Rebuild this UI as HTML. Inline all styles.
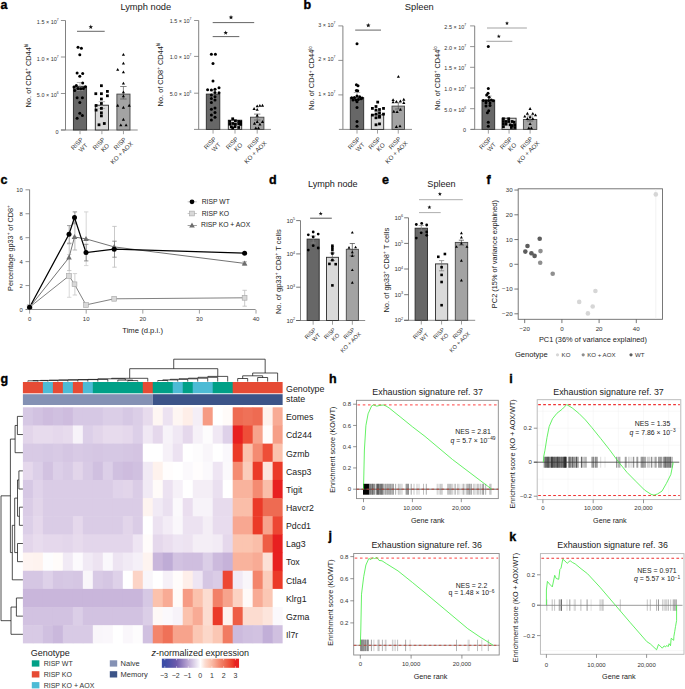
<!DOCTYPE html>
<html><head><meta charset="utf-8"><style>
html,body{margin:0;padding:0;background:#fff;}
body{width:685px;height:689px;overflow:hidden;}
svg{display:block;font-family:"Liberation Sans", sans-serif;}
</style></head><body>
<svg width="685" height="689" viewBox="0 0 685 689" fill="#1a1a1a">
<text x="0.4" y="9.3" font-size="12.5" font-weight="bold" fill="#000" stroke="#000" stroke-width="0.35">a</text>
<text x="145.8" y="10.1" font-size="9.3" text-anchor="middle">Lymph node</text>
<line x1="65.5" y1="20.5" x2="65.5" y2="130" stroke="#6a6a6a" stroke-width="0.85"/>
<line x1="61" y1="130" x2="137.7" y2="130" stroke="#7a7a7a" stroke-width="0.85"/>
<line x1="60.9" y1="20.5" x2="65.5" y2="20.5" stroke="#777" stroke-width="0.8"/>
<text x="58.6" y="24.33" font-size="6.2" transform="matrix(0.88 0 0 1 7.03 0)" text-anchor="end" fill="#333">1.5 × 10<tspan font-size="3.84" dy="-2.91">7</tspan></text>
<line x1="60.9" y1="57" x2="65.5" y2="57" stroke="#777" stroke-width="0.8"/>
<text x="58.6" y="60.83" font-size="6.2" transform="matrix(0.88 0 0 1 7.03 0)" text-anchor="end" fill="#333">1.0 × 10<tspan font-size="3.84" dy="-2.91">7</tspan></text>
<line x1="60.9" y1="93.5" x2="65.5" y2="93.5" stroke="#777" stroke-width="0.8"/>
<text x="58.6" y="97.33" font-size="6.2" transform="matrix(0.88 0 0 1 7.03 0)" text-anchor="end" fill="#333">5.0 × 10<tspan font-size="3.84" dy="-2.91">6</tspan></text>
<line x1="60.9" y1="130" x2="65.5" y2="130" stroke="#777" stroke-width="0.8"/>
<text x="58.6" y="133.83" font-size="6.2" transform="matrix(0.88 0 0 1 7.03 0)" text-anchor="end" fill="#333">0</text>
<rect x="73.4" y="86.3" width="13.2" height="43.7" fill="#676767" stroke="#2a2a2a" stroke-width="0.9"/>
<line x1="80" y1="130.4" x2="80" y2="134.2" stroke="#888" stroke-width="0.8"/>
<text x="77" y="145.87" font-size="6.2" text-anchor="middle" fill="#333" transform="rotate(-45 77 143.7)">RISP</text>
<text x="83.2" y="149.77" font-size="6.2" text-anchor="middle" fill="#333" transform="rotate(-45 83.2 147.6)">WT</text>
<rect x="95.3" y="105.2" width="13.2" height="24.8" fill="#dadada" stroke="#2a2a2a" stroke-width="0.9"/>
<line x1="101.9" y1="130.4" x2="101.9" y2="134.2" stroke="#888" stroke-width="0.8"/>
<text x="98.9" y="145.87" font-size="6.2" text-anchor="middle" fill="#333" transform="rotate(-45 98.9 143.7)">RISP</text>
<text x="105.1" y="149.77" font-size="6.2" text-anchor="middle" fill="#333" transform="rotate(-45 105.1 147.6)">KO</text>
<rect x="116.9" y="94.1" width="13.1" height="35.9" fill="#a3a3a3" stroke="#444" stroke-width="0.9"/>
<line x1="123.45" y1="130.4" x2="123.45" y2="134.2" stroke="#888" stroke-width="0.8"/>
<text x="119.95" y="145.77" font-size="6.2" text-anchor="middle" fill="#333" transform="rotate(-45 119.95 143.6)">RISP</text>
<text x="121.65" y="154.97" font-size="6.2" text-anchor="middle" fill="#333" transform="rotate(-45 121.65 152.8)">KO + AOX</text>
<text x="30.6" y="75.5" font-size="7.4" text-anchor="middle" fill="#1a1a1a" transform="rotate(-90 30.6 75.5)">No. of CD4<tspan font-size="4.59" dy="-2.81">+</tspan><tspan dy="2.81"> </tspan>CD44<tspan font-size="4.59" dy="-2.81">hi</tspan></text>
<line x1="80" y1="82.5" x2="80" y2="90.5" stroke="#999" stroke-width="0.7"/>
<line x1="76.8" y1="82.5" x2="83.2" y2="82.5" stroke="#999" stroke-width="0.7"/>
<line x1="76.8" y1="90.5" x2="83.2" y2="90.5" stroke="#999" stroke-width="0.7"/>
<line x1="101.9" y1="101.7" x2="101.9" y2="108.5" stroke="#999" stroke-width="0.7"/>
<line x1="98.7" y1="101.7" x2="105.1" y2="101.7" stroke="#999" stroke-width="0.7"/>
<line x1="98.7" y1="108.5" x2="105.1" y2="108.5" stroke="#999" stroke-width="0.7"/>
<line x1="123.4" y1="86.5" x2="123.4" y2="99" stroke="#555" stroke-width="0.7"/>
<line x1="120.2" y1="86.5" x2="126.6" y2="86.5" stroke="#555" stroke-width="0.7"/>
<line x1="120.2" y1="99" x2="126.6" y2="99" stroke="#555" stroke-width="0.7"/>
<circle cx="78" cy="47.3" r="1.5" fill="#000"/>
<circle cx="81.4" cy="48.3" r="1.5" fill="#000"/>
<circle cx="79.8" cy="54.7" r="1.5" fill="#000"/>
<circle cx="77.1" cy="73.1" r="1.5" fill="#000"/>
<circle cx="82.7" cy="73.4" r="1.5" fill="#000"/>
<circle cx="79.8" cy="76.3" r="1.5" fill="#000"/>
<circle cx="82.7" cy="83" r="1.5" fill="#000"/>
<circle cx="76.3" cy="85.4" r="1.5" fill="#000"/>
<circle cx="74" cy="87" r="1.5" fill="#000"/>
<circle cx="85.4" cy="86.8" r="1.5" fill="#000"/>
<circle cx="78" cy="88.4" r="1.5" fill="#000"/>
<circle cx="80.7" cy="88.8" r="1.5" fill="#000"/>
<circle cx="83.4" cy="88.4" r="1.5" fill="#000"/>
<circle cx="74.7" cy="90.5" r="1.5" fill="#000"/>
<circle cx="77.1" cy="97.7" r="1.5" fill="#000"/>
<circle cx="82.4" cy="97.7" r="1.5" fill="#000"/>
<circle cx="79.8" cy="102.5" r="1.5" fill="#000"/>
<circle cx="79.8" cy="113.2" r="1.5" fill="#000"/>
<circle cx="82.4" cy="115.5" r="1.5" fill="#000"/>
<circle cx="77.1" cy="118.2" r="1.5" fill="#000"/>
<rect x="100.01" y="84.31" width="2.78" height="2.78" fill="#000"/>
<rect x="94.41" y="92.31" width="2.78" height="2.78" fill="#000"/>
<rect x="100.01" y="92.31" width="2.78" height="2.78" fill="#000"/>
<rect x="106.01" y="90.01" width="2.78" height="2.78" fill="#000"/>
<rect x="106.01" y="94.41" width="2.78" height="2.78" fill="#000"/>
<rect x="100.01" y="97.61" width="2.78" height="2.78" fill="#000"/>
<rect x="94.71" y="104.11" width="2.78" height="2.78" fill="#000"/>
<rect x="100.01" y="102.11" width="2.78" height="2.78" fill="#000"/>
<rect x="94.71" y="108.71" width="2.78" height="2.78" fill="#000"/>
<rect x="100.01" y="107.01" width="2.78" height="2.78" fill="#000"/>
<rect x="100.01" y="111.41" width="2.78" height="2.78" fill="#000"/>
<rect x="100.01" y="114.51" width="2.78" height="2.78" fill="#000"/>
<rect x="102.91" y="122.11" width="2.78" height="2.78" fill="#000"/>
<rect x="97.61" y="123.41" width="2.78" height="2.78" fill="#000"/>
<path d="M123.4 53L124.98 55.83L121.83 55.83Z" fill="#000"/>
<path d="M123.4 61.7L124.98 64.53L121.83 64.53Z" fill="#000"/>
<path d="M117.7 68L119.28 70.83L116.12 70.83Z" fill="#000"/>
<path d="M123.4 70.4L124.98 73.23L121.83 73.23Z" fill="#000"/>
<path d="M123.4 81.7L124.98 84.53L121.83 84.53Z" fill="#000"/>
<path d="M123.4 90.4L124.98 93.23L121.83 93.23Z" fill="#000"/>
<path d="M123.4 94.4L124.98 97.23L121.83 97.23Z" fill="#000"/>
<path d="M117.7 103.8L119.28 106.63L116.12 106.63Z" fill="#000"/>
<path d="M129.2 103.8L130.77 106.63L127.62 106.63Z" fill="#000"/>
<path d="M123.4 105.8L124.98 108.63L121.83 108.63Z" fill="#000"/>
<path d="M123.4 117.8L124.98 120.63L121.83 120.63Z" fill="#000"/>
<path d="M120.8 123.5L122.38 126.33L119.22 126.33Z" fill="#000"/>
<path d="M126.1 123.5L127.67 126.33L124.52 126.33Z" fill="#000"/>
<line x1="77" y1="31.3" x2="104.7" y2="31.3" stroke="#555" stroke-width="0.9"/>
<path d="M90.8 24.6 L91.39 26.18 L93.08 26.26 L91.76 27.31 L92.21 28.94 L90.8 28.01 L89.39 28.94 L89.84 27.31 L88.52 26.26 L90.21 26.18Z" fill="#111"/>
<line x1="198.7" y1="20.5" x2="198.7" y2="129.4" stroke="#6a6a6a" stroke-width="0.85"/>
<line x1="194" y1="129.4" x2="271" y2="129.4" stroke="#7a7a7a" stroke-width="0.85"/>
<line x1="194.1" y1="20.5" x2="198.7" y2="20.5" stroke="#777" stroke-width="0.8"/>
<text x="191.5" y="23.23" font-size="6.2" transform="matrix(0.88 0 0 1 22.98 0)" text-anchor="end" fill="#333">1.5 × 10<tspan font-size="3.84" dy="-2.91">7</tspan></text>
<line x1="194.1" y1="56.4" x2="198.7" y2="56.4" stroke="#777" stroke-width="0.8"/>
<text x="191.5" y="59.13" font-size="6.2" transform="matrix(0.88 0 0 1 22.98 0)" text-anchor="end" fill="#333">1.0 × 10<tspan font-size="3.84" dy="-2.91">7</tspan></text>
<line x1="194.1" y1="93.2" x2="198.7" y2="93.2" stroke="#777" stroke-width="0.8"/>
<text x="191.5" y="95.93" font-size="6.2" transform="matrix(0.88 0 0 1 22.98 0)" text-anchor="end" fill="#333">5.0 × 10<tspan font-size="3.84" dy="-2.91">6</tspan></text>
<rect x="206.3" y="94.1" width="13.5" height="35.3" fill="#676767" stroke="#2a2a2a" stroke-width="0.9"/>
<line x1="213.05" y1="129.8" x2="213.05" y2="133.6" stroke="#888" stroke-width="0.8"/>
<text x="210.05" y="145.27" font-size="6.2" text-anchor="middle" fill="#333" transform="rotate(-45 210.05 143.1)">RISP</text>
<text x="216.25" y="149.17" font-size="6.2" text-anchor="middle" fill="#333" transform="rotate(-45 216.25 147)">WT</text>
<rect x="228.3" y="120.2" width="13.4" height="9.2" fill="#dadada" stroke="#2a2a2a" stroke-width="0.9"/>
<line x1="235" y1="129.8" x2="235" y2="133.6" stroke="#888" stroke-width="0.8"/>
<text x="232" y="145.27" font-size="6.2" text-anchor="middle" fill="#333" transform="rotate(-45 232 143.1)">RISP</text>
<text x="238.2" y="149.17" font-size="6.2" text-anchor="middle" fill="#333" transform="rotate(-45 238.2 147)">KO</text>
<rect x="250.5" y="117.2" width="13.4" height="12.2" fill="#a3a3a3" stroke="#444" stroke-width="0.9"/>
<line x1="257.2" y1="129.8" x2="257.2" y2="133.6" stroke="#888" stroke-width="0.8"/>
<text x="253.7" y="145.17" font-size="6.2" text-anchor="middle" fill="#333" transform="rotate(-45 253.7 143)">RISP</text>
<text x="255.4" y="154.37" font-size="6.2" text-anchor="middle" fill="#333" transform="rotate(-45 255.4 152.2)">KO + AOX</text>
<text x="163" y="74.5" font-size="7.4" text-anchor="middle" fill="#1a1a1a" transform="rotate(-90 163 74.5)">No. of CD8<tspan font-size="4.59" dy="-2.81">+</tspan><tspan dy="2.81"> </tspan>CD44<tspan font-size="4.59" dy="-2.81">hi</tspan></text>
<line x1="213" y1="90" x2="213" y2="98" stroke="#999" stroke-width="0.7"/>
<line x1="209.8" y1="90" x2="216.2" y2="90" stroke="#999" stroke-width="0.7"/>
<line x1="209.8" y1="98" x2="216.2" y2="98" stroke="#999" stroke-width="0.7"/>
<line x1="257.2" y1="114.1" x2="257.2" y2="120" stroke="#555" stroke-width="0.7"/>
<line x1="254" y1="114.1" x2="260.4" y2="114.1" stroke="#555" stroke-width="0.7"/>
<line x1="254" y1="120" x2="260.4" y2="120" stroke="#555" stroke-width="0.7"/>
<circle cx="211.4" cy="54.3" r="1.5" fill="#000"/>
<circle cx="215.4" cy="54.3" r="1.5" fill="#000"/>
<circle cx="213" cy="63.4" r="1.5" fill="#000"/>
<circle cx="213" cy="81.1" r="1.5" fill="#000"/>
<circle cx="207.6" cy="89.8" r="1.5" fill="#000"/>
<circle cx="211.4" cy="90.1" r="1.5" fill="#000"/>
<circle cx="215" cy="89.2" r="1.5" fill="#000"/>
<circle cx="219" cy="87.8" r="1.5" fill="#000"/>
<circle cx="215" cy="92.4" r="1.5" fill="#000"/>
<circle cx="219" cy="92.8" r="1.5" fill="#000"/>
<circle cx="211.4" cy="95" r="1.5" fill="#000"/>
<circle cx="215" cy="96.8" r="1.5" fill="#000"/>
<circle cx="211.4" cy="98.5" r="1.5" fill="#000"/>
<circle cx="215" cy="100.1" r="1.5" fill="#000"/>
<circle cx="211.4" cy="102.5" r="1.5" fill="#000"/>
<circle cx="211.4" cy="109.2" r="1.5" fill="#000"/>
<circle cx="215" cy="107.9" r="1.5" fill="#000"/>
<circle cx="215" cy="112.4" r="1.5" fill="#000"/>
<circle cx="211.4" cy="115.1" r="1.5" fill="#000"/>
<circle cx="215" cy="117.2" r="1.5" fill="#000"/>
<circle cx="211.4" cy="119.9" r="1.5" fill="#000"/>
<rect x="228.31" y="120.11" width="2.78" height="2.78" fill="#000"/>
<rect x="231.31" y="117.41" width="2.78" height="2.78" fill="#000"/>
<rect x="234.01" y="119.41" width="2.78" height="2.78" fill="#000"/>
<rect x="237.31" y="120.11" width="2.78" height="2.78" fill="#000"/>
<rect x="239.31" y="120.41" width="2.78" height="2.78" fill="#000"/>
<rect x="228.31" y="122.81" width="2.78" height="2.78" fill="#000"/>
<rect x="231.31" y="122.11" width="2.78" height="2.78" fill="#000"/>
<rect x="234.01" y="122.81" width="2.78" height="2.78" fill="#000"/>
<rect x="237.31" y="122.51" width="2.78" height="2.78" fill="#000"/>
<rect x="239.31" y="123.01" width="2.78" height="2.78" fill="#000"/>
<rect x="230.01" y="125.41" width="2.78" height="2.78" fill="#000"/>
<rect x="233.61" y="125.21" width="2.78" height="2.78" fill="#000"/>
<rect x="237.31" y="126.11" width="2.78" height="2.78" fill="#000"/>
<rect x="231.31" y="126.81" width="2.78" height="2.78" fill="#000"/>
<path d="M254.1 107.1L255.67 109.93L252.53 109.93Z" fill="#000"/>
<path d="M257.2 104.4L258.77 107.23L255.62 107.23Z" fill="#000"/>
<path d="M259.9 104L261.47 106.83L258.32 106.83Z" fill="#000"/>
<path d="M262.5 103.8L264.07 106.63L260.93 106.63Z" fill="#000"/>
<path d="M257.2 108L258.77 110.83L255.62 110.83Z" fill="#000"/>
<path d="M257.2 113.8L258.77 116.63L255.62 116.63Z" fill="#000"/>
<path d="M254.5 121.8L256.07 124.63L252.93 124.63Z" fill="#000"/>
<path d="M257.2 120.1L258.77 122.93L255.62 122.93Z" fill="#000"/>
<path d="M259.9 122.7L261.47 125.53L258.32 125.53Z" fill="#000"/>
<path d="M262.5 120.1L264.07 122.93L260.93 122.93Z" fill="#000"/>
<path d="M255.8 126.5L257.38 129.33L254.23 129.33Z" fill="#000"/>
<path d="M258.5 126.5L260.07 129.33L256.93 129.33Z" fill="#000"/>
<line x1="212.7" y1="22.6" x2="254.2" y2="22.6" stroke="#555" stroke-width="0.9"/>
<path d="M231 15 L231.59 16.58 L233.28 16.66 L231.96 17.71 L232.41 19.34 L231 18.41 L229.59 19.34 L230.04 17.71 L228.72 16.66 L230.41 16.58Z" fill="#111"/>
<line x1="212.7" y1="36.6" x2="239.3" y2="36.6" stroke="#555" stroke-width="0.9"/>
<path d="M225.7 30.4 L226.29 31.98 L227.98 32.06 L226.66 33.11 L227.11 34.74 L225.7 33.81 L224.29 34.74 L224.74 33.11 L223.42 32.06 L225.11 31.98Z" fill="#111"/>
<text x="303.5" y="9.4" font-size="12.5" font-weight="bold" fill="#000" stroke="#000" stroke-width="0.35">b</text>
<text x="419.3" y="9.8" font-size="9.3" text-anchor="middle">Spleen</text>
<line x1="342.9" y1="25.9" x2="342.9" y2="129.4" stroke="#6a6a6a" stroke-width="0.85"/>
<line x1="338.9" y1="129.4" x2="412" y2="129.4" stroke="#7a7a7a" stroke-width="0.85"/>
<line x1="338.3" y1="25.9" x2="342.9" y2="25.9" stroke="#777" stroke-width="0.8"/>
<text x="335.4" y="26.63" font-size="6.2" transform="matrix(0.88 0 0 1 40.25 0)" text-anchor="end" fill="#333">3 × 10<tspan font-size="3.84" dy="-2.91">7</tspan></text>
<line x1="338.3" y1="60.4" x2="342.9" y2="60.4" stroke="#777" stroke-width="0.8"/>
<text x="335.4" y="61.13" font-size="6.2" transform="matrix(0.88 0 0 1 40.25 0)" text-anchor="end" fill="#333">2 × 10<tspan font-size="3.84" dy="-2.91">7</tspan></text>
<line x1="338.3" y1="94.9" x2="342.9" y2="94.9" stroke="#777" stroke-width="0.8"/>
<text x="335.4" y="95.63" font-size="6.2" transform="matrix(0.88 0 0 1 40.25 0)" text-anchor="end" fill="#333">1 × 10<tspan font-size="3.84" dy="-2.91">7</tspan></text>
<rect x="350.3" y="97.7" width="13.4" height="31.7" fill="#676767" stroke="#2a2a2a" stroke-width="0.9"/>
<line x1="357" y1="129.8" x2="357" y2="133.6" stroke="#888" stroke-width="0.8"/>
<text x="354" y="145.27" font-size="6.2" text-anchor="middle" fill="#333" transform="rotate(-45 354 143.1)">RISP</text>
<text x="360.2" y="149.17" font-size="6.2" text-anchor="middle" fill="#333" transform="rotate(-45 360.2 147)">WT</text>
<rect x="371.3" y="114.8" width="12.4" height="14.6" fill="#dadada" stroke="#2a2a2a" stroke-width="0.9"/>
<line x1="377.5" y1="129.8" x2="377.5" y2="133.6" stroke="#888" stroke-width="0.8"/>
<text x="374.5" y="145.27" font-size="6.2" text-anchor="middle" fill="#333" transform="rotate(-45 374.5 143.1)">RISP</text>
<text x="380.7" y="149.17" font-size="6.2" text-anchor="middle" fill="#333" transform="rotate(-45 380.7 147)">KO</text>
<rect x="392" y="106.1" width="12.5" height="23.3" fill="#a3a3a3" stroke="#444" stroke-width="0.9"/>
<line x1="398.25" y1="129.8" x2="398.25" y2="133.6" stroke="#888" stroke-width="0.8"/>
<text x="394.75" y="145.17" font-size="6.2" text-anchor="middle" fill="#333" transform="rotate(-45 394.75 143)">RISP</text>
<text x="396.45" y="154.37" font-size="6.2" text-anchor="middle" fill="#333" transform="rotate(-45 396.45 152.2)">KO + AOX</text>
<text x="314.4" y="78" font-size="7.4" text-anchor="middle" fill="#1a1a1a" transform="rotate(-90 314.4 78)">No. of CD4<tspan font-size="4.59" dy="-2.81">+</tspan><tspan dy="2.81"> </tspan>CD44<tspan font-size="4.59" dy="-2.81">lo</tspan></text>
<line x1="357" y1="92.5" x2="357" y2="101" stroke="#999" stroke-width="0.7"/>
<line x1="353.8" y1="92.5" x2="360.2" y2="92.5" stroke="#999" stroke-width="0.7"/>
<line x1="353.8" y1="101" x2="360.2" y2="101" stroke="#999" stroke-width="0.7"/>
<line x1="377.5" y1="111" x2="377.5" y2="118" stroke="#999" stroke-width="0.7"/>
<line x1="374.3" y1="111" x2="380.7" y2="111" stroke="#999" stroke-width="0.7"/>
<line x1="374.3" y1="118" x2="380.7" y2="118" stroke="#999" stroke-width="0.7"/>
<line x1="398.3" y1="102.8" x2="398.3" y2="109" stroke="#555" stroke-width="0.7"/>
<line x1="395.1" y1="102.8" x2="401.5" y2="102.8" stroke="#555" stroke-width="0.7"/>
<line x1="395.1" y1="109" x2="401.5" y2="109" stroke="#555" stroke-width="0.7"/>
<circle cx="357" cy="43.7" r="1.5" fill="#000"/>
<circle cx="356.4" cy="84.8" r="1.5" fill="#000"/>
<circle cx="358" cy="85.7" r="1.5" fill="#000"/>
<circle cx="356.4" cy="90.5" r="1.5" fill="#000"/>
<circle cx="357.7" cy="90.8" r="1.5" fill="#000"/>
<circle cx="351.7" cy="97.7" r="1.5" fill="#000"/>
<circle cx="354.4" cy="97.4" r="1.5" fill="#000"/>
<circle cx="357" cy="96.1" r="1.5" fill="#000"/>
<circle cx="359.7" cy="96.8" r="1.5" fill="#000"/>
<circle cx="362.1" cy="98.1" r="1.5" fill="#000"/>
<circle cx="353" cy="99.9" r="1.5" fill="#000"/>
<circle cx="355.7" cy="100.1" r="1.5" fill="#000"/>
<circle cx="358.4" cy="99.5" r="1.5" fill="#000"/>
<circle cx="361" cy="98.8" r="1.5" fill="#000"/>
<circle cx="357" cy="101.7" r="1.5" fill="#000"/>
<circle cx="357" cy="107.5" r="1.5" fill="#000"/>
<circle cx="357" cy="121.5" r="1.5" fill="#000"/>
<circle cx="357" cy="126.2" r="1.5" fill="#000"/>
<rect x="376.31" y="100.71" width="2.78" height="2.78" fill="#000"/>
<rect x="374.61" y="105.11" width="2.78" height="2.78" fill="#000"/>
<rect x="371.01" y="107.01" width="2.78" height="2.78" fill="#000"/>
<rect x="378.11" y="108.11" width="2.78" height="2.78" fill="#000"/>
<rect x="382.11" y="107.01" width="2.78" height="2.78" fill="#000"/>
<rect x="374.61" y="108.71" width="2.78" height="2.78" fill="#000"/>
<rect x="378.11" y="111.41" width="2.78" height="2.78" fill="#000"/>
<rect x="371.01" y="113.71" width="2.78" height="2.78" fill="#000"/>
<rect x="374.61" y="112.71" width="2.78" height="2.78" fill="#000"/>
<rect x="378.11" y="115.01" width="2.78" height="2.78" fill="#000"/>
<rect x="382.11" y="112.71" width="2.78" height="2.78" fill="#000"/>
<rect x="374.61" y="116.41" width="2.78" height="2.78" fill="#000"/>
<rect x="378.11" y="115.81" width="2.78" height="2.78" fill="#000"/>
<rect x="374.61" y="123.41" width="2.78" height="2.78" fill="#000"/>
<rect x="378.11" y="122.51" width="2.78" height="2.78" fill="#000"/>
<path d="M398.4 75L399.97 77.83L396.82 77.83Z" fill="#000"/>
<path d="M393.1 98.2L394.68 101.03L391.53 101.03Z" fill="#000"/>
<path d="M396.4 100L397.97 102.83L394.82 102.83Z" fill="#000"/>
<path d="M400.4 99.5L401.97 102.33L398.82 102.33Z" fill="#000"/>
<path d="M403.8 97.8L405.38 100.63L402.23 100.63Z" fill="#000"/>
<path d="M393.1 100.4L394.68 103.23L391.53 103.23Z" fill="#000"/>
<path d="M403.8 101.1L405.38 103.93L402.23 103.93Z" fill="#000"/>
<path d="M393.8 109.8L395.38 112.63L392.23 112.63Z" fill="#000"/>
<path d="M397.1 110.2L398.68 113.03L395.53 113.03Z" fill="#000"/>
<path d="M400.4 108L401.97 110.83L398.82 110.83Z" fill="#000"/>
<path d="M396.4 125.1L397.97 127.93L394.82 127.93Z" fill="#000"/>
<path d="M400 124.5L401.57 127.33L398.43 127.33Z" fill="#000"/>
<line x1="355.2" y1="30.1" x2="381" y2="30.1" stroke="#555" stroke-width="0.9"/>
<path d="M368.3 23 L368.89 24.58 L370.58 24.66 L369.26 25.71 L369.71 27.34 L368.3 26.41 L366.89 27.34 L367.34 25.71 L366.02 24.66 L367.71 24.58Z" fill="#111"/>
<line x1="474.7" y1="25.9" x2="474.7" y2="129.4" stroke="#6a6a6a" stroke-width="0.85"/>
<line x1="471" y1="129.4" x2="537" y2="129.4" stroke="#7a7a7a" stroke-width="0.85"/>
<line x1="470.1" y1="25.9" x2="474.7" y2="25.9" stroke="#777" stroke-width="0.8"/>
<text x="466.1" y="28.83" font-size="6.2" transform="matrix(0.88 0 0 1 55.93 0)" text-anchor="end" fill="#333">2.5 × 10<tspan font-size="3.84" dy="-2.91">7</tspan></text>
<line x1="470.1" y1="46.6" x2="474.7" y2="46.6" stroke="#777" stroke-width="0.8"/>
<text x="466.1" y="49.53" font-size="6.2" transform="matrix(0.88 0 0 1 55.93 0)" text-anchor="end" fill="#333">2.0 × 10<tspan font-size="3.84" dy="-2.91">7</tspan></text>
<line x1="470.1" y1="67.3" x2="474.7" y2="67.3" stroke="#777" stroke-width="0.8"/>
<text x="466.1" y="70.23" font-size="6.2" transform="matrix(0.88 0 0 1 55.93 0)" text-anchor="end" fill="#333">1.5 × 10<tspan font-size="3.84" dy="-2.91">7</tspan></text>
<line x1="470.1" y1="88" x2="474.7" y2="88" stroke="#777" stroke-width="0.8"/>
<text x="466.1" y="90.93" font-size="6.2" transform="matrix(0.88 0 0 1 55.93 0)" text-anchor="end" fill="#333">1.0 × 10<tspan font-size="3.84" dy="-2.91">7</tspan></text>
<line x1="470.1" y1="108.7" x2="474.7" y2="108.7" stroke="#777" stroke-width="0.8"/>
<text x="466.1" y="111.63" font-size="6.2" transform="matrix(0.88 0 0 1 55.93 0)" text-anchor="end" fill="#333">5.0 × 10<tspan font-size="3.84" dy="-2.91">6</tspan></text>
<line x1="470.1" y1="129.4" x2="474.7" y2="129.4" stroke="#777" stroke-width="0.8"/>
<text x="466.1" y="132.33" font-size="6.2" transform="matrix(0.88 0 0 1 55.93 0)" text-anchor="end" fill="#333">0</text>
<rect x="482" y="100.1" width="12.7" height="29.3" fill="#676767" stroke="#2a2a2a" stroke-width="0.9"/>
<line x1="488.35" y1="129.8" x2="488.35" y2="133.6" stroke="#888" stroke-width="0.8"/>
<text x="485.35" y="145.27" font-size="6.2" text-anchor="middle" fill="#333" transform="rotate(-45 485.35 143.1)">RISP</text>
<text x="491.55" y="149.17" font-size="6.2" text-anchor="middle" fill="#333" transform="rotate(-45 491.55 147)">WT</text>
<rect x="502" y="118.2" width="14.1" height="11.2" fill="#dadada" stroke="#2a2a2a" stroke-width="0.9"/>
<line x1="509.05" y1="129.8" x2="509.05" y2="133.6" stroke="#888" stroke-width="0.8"/>
<text x="506.05" y="145.27" font-size="6.2" text-anchor="middle" fill="#333" transform="rotate(-45 506.05 143.1)">RISP</text>
<text x="512.25" y="149.17" font-size="6.2" text-anchor="middle" fill="#333" transform="rotate(-45 512.25 147)">KO</text>
<rect x="523.4" y="119.5" width="13.4" height="9.9" fill="#a3a3a3" stroke="#444" stroke-width="0.9"/>
<line x1="530.1" y1="129.8" x2="530.1" y2="133.6" stroke="#888" stroke-width="0.8"/>
<text x="526.6" y="145.17" font-size="6.2" text-anchor="middle" fill="#333" transform="rotate(-45 526.6 143)">RISP</text>
<text x="528.3" y="154.37" font-size="6.2" text-anchor="middle" fill="#333" transform="rotate(-45 528.3 152.2)">KO + AOX</text>
<text x="439.8" y="78" font-size="7.4" text-anchor="middle" fill="#1a1a1a" transform="rotate(-90 439.8 78)">No. of CD8<tspan font-size="4.59" dy="-2.81">+</tspan><tspan dy="2.81"> </tspan>CD44<tspan font-size="4.59" dy="-2.81">lo</tspan></text>
<line x1="488.5" y1="96" x2="488.5" y2="103" stroke="#999" stroke-width="0.7"/>
<line x1="485.3" y1="96" x2="491.7" y2="96" stroke="#999" stroke-width="0.7"/>
<line x1="485.3" y1="103" x2="491.7" y2="103" stroke="#999" stroke-width="0.7"/>
<line x1="530" y1="116" x2="530" y2="121" stroke="#555" stroke-width="0.7"/>
<line x1="526.8" y1="116" x2="533.2" y2="116" stroke="#555" stroke-width="0.7"/>
<line x1="526.8" y1="121" x2="533.2" y2="121" stroke="#555" stroke-width="0.7"/>
<circle cx="488.3" cy="46.4" r="1.5" fill="#000"/>
<circle cx="488.3" cy="88.4" r="1.5" fill="#000"/>
<circle cx="488" cy="93.2" r="1.5" fill="#000"/>
<circle cx="486.7" cy="95" r="1.5" fill="#000"/>
<circle cx="489.1" cy="97.2" r="1.5" fill="#000"/>
<circle cx="483.3" cy="100.4" r="1.5" fill="#000"/>
<circle cx="486" cy="100.8" r="1.5" fill="#000"/>
<circle cx="488.7" cy="100.4" r="1.5" fill="#000"/>
<circle cx="491.4" cy="99.9" r="1.5" fill="#000"/>
<circle cx="493.4" cy="100.8" r="1.5" fill="#000"/>
<circle cx="486" cy="102.8" r="1.5" fill="#000"/>
<circle cx="490" cy="103.1" r="1.5" fill="#000"/>
<circle cx="486" cy="106.1" r="1.5" fill="#000"/>
<circle cx="490" cy="105.5" r="1.5" fill="#000"/>
<circle cx="488.7" cy="110.8" r="1.5" fill="#000"/>
<circle cx="487.4" cy="112.8" r="1.5" fill="#000"/>
<circle cx="488.3" cy="122.2" r="1.5" fill="#000"/>
<circle cx="488.3" cy="126.2" r="1.5" fill="#000"/>
<rect x="502.01" y="117.41" width="2.78" height="2.78" fill="#000"/>
<rect x="502.01" y="120.11" width="2.78" height="2.78" fill="#000"/>
<rect x="502.01" y="122.81" width="2.78" height="2.78" fill="#000"/>
<rect x="502.01" y="125.41" width="2.78" height="2.78" fill="#000"/>
<rect x="504.71" y="120.11" width="2.78" height="2.78" fill="#000"/>
<rect x="504.71" y="122.81" width="2.78" height="2.78" fill="#000"/>
<rect x="507.31" y="117.41" width="2.78" height="2.78" fill="#000"/>
<rect x="507.31" y="120.11" width="2.78" height="2.78" fill="#000"/>
<rect x="508.71" y="123.41" width="2.78" height="2.78" fill="#000"/>
<rect x="510.71" y="120.11" width="2.78" height="2.78" fill="#000"/>
<rect x="510.71" y="124.11" width="2.78" height="2.78" fill="#000"/>
<rect x="512.71" y="120.81" width="2.78" height="2.78" fill="#000"/>
<rect x="513.31" y="123.41" width="2.78" height="2.78" fill="#000"/>
<rect x="513.31" y="126.11" width="2.78" height="2.78" fill="#000"/>
<rect x="510.01" y="126.11" width="2.78" height="2.78" fill="#000"/>
<path d="M530.1 107.1L531.68 109.93L528.52 109.93Z" fill="#000"/>
<path d="M527.4 111.8L528.98 114.63L525.82 114.63Z" fill="#000"/>
<path d="M532.8 112L534.38 114.83L531.22 114.83Z" fill="#000"/>
<path d="M535.5 113.4L537.08 116.23L533.92 116.23Z" fill="#000"/>
<path d="M524.8 114.7L526.38 117.53L523.22 117.53Z" fill="#000"/>
<path d="M527.4 117.1L528.98 119.93L525.82 119.93Z" fill="#000"/>
<path d="M530.1 115.5L531.68 118.33L528.52 118.33Z" fill="#000"/>
<path d="M532.8 117.1L534.38 119.93L531.22 119.93Z" fill="#000"/>
<path d="M530.1 122.2L531.68 125.03L528.52 125.03Z" fill="#000"/>
<path d="M528.8 126.5L530.38 129.33L527.22 129.33Z" fill="#000"/>
<path d="M531.4 126.5L532.98 129.33L529.82 129.33Z" fill="#000"/>
<line x1="487" y1="28" x2="526.9" y2="28" stroke="#999" stroke-width="0.9"/>
<path d="M507 21.2 L507.52 22.59 L509 22.65 L507.84 23.57 L508.23 25 L507 24.18 L505.77 25 L506.16 23.57 L505 22.65 L506.48 22.59Z" fill="#111"/>
<line x1="486.3" y1="41.3" x2="512.3" y2="41.3" stroke="#999" stroke-width="0.9"/>
<path d="M498.8 34.3 L499.32 35.69 L500.8 35.75 L499.64 36.67 L500.03 38.1 L498.8 37.28 L497.57 38.1 L497.96 36.67 L496.8 35.75 L498.28 35.69Z" fill="#111"/>
<text x="0.6" y="183.6" font-size="12.5" font-weight="bold" fill="#000" stroke="#000" stroke-width="0.35">c</text>
<line x1="29.6" y1="189.6" x2="29.6" y2="309.5" stroke="#6a6a6a" stroke-width="0.85"/>
<line x1="25.8" y1="309.5" x2="255.6" y2="309.5" stroke="#7a7a7a" stroke-width="0.85"/>
<line x1="25.5" y1="309.5" x2="29.6" y2="309.5" stroke="#777" stroke-width="0.8"/>
<text x="22.8" y="311.6" font-size="5.9" text-anchor="end" fill="#333">0</text>
<line x1="25.5" y1="285.56" x2="29.6" y2="285.56" stroke="#777" stroke-width="0.8"/>
<text x="22.8" y="287.66" font-size="5.9" text-anchor="end" fill="#333">2</text>
<line x1="25.5" y1="261.62" x2="29.6" y2="261.62" stroke="#777" stroke-width="0.8"/>
<text x="22.8" y="263.72" font-size="5.9" text-anchor="end" fill="#333">4</text>
<line x1="25.5" y1="237.68" x2="29.6" y2="237.68" stroke="#777" stroke-width="0.8"/>
<text x="22.8" y="239.78" font-size="5.9" text-anchor="end" fill="#333">6</text>
<line x1="25.5" y1="213.74" x2="29.6" y2="213.74" stroke="#777" stroke-width="0.8"/>
<text x="22.8" y="215.84" font-size="5.9" text-anchor="end" fill="#333">8</text>
<line x1="25.5" y1="189.8" x2="29.6" y2="189.8" stroke="#777" stroke-width="0.8"/>
<text x="22.8" y="191.9" font-size="5.9" text-anchor="end" fill="#333">10</text>
<line x1="29.6" y1="309.9" x2="29.6" y2="313.6" stroke="#888" stroke-width="0.8"/>
<text x="29.6" y="321.4" font-size="6" text-anchor="middle" fill="#333">0</text>
<line x1="86.2" y1="309.9" x2="86.2" y2="313.6" stroke="#888" stroke-width="0.8"/>
<text x="86.2" y="321.4" font-size="6" text-anchor="middle" fill="#333">10</text>
<line x1="142.8" y1="309.9" x2="142.8" y2="313.6" stroke="#888" stroke-width="0.8"/>
<text x="142.8" y="321.4" font-size="6" text-anchor="middle" fill="#333">20</text>
<line x1="199.4" y1="309.9" x2="199.4" y2="313.6" stroke="#888" stroke-width="0.8"/>
<text x="199.4" y="321.4" font-size="6" text-anchor="middle" fill="#333">30</text>
<line x1="256" y1="309.9" x2="256" y2="313.6" stroke="#888" stroke-width="0.8"/>
<text x="256" y="321.4" font-size="6" text-anchor="middle" fill="#333">40</text>
<text x="142.6" y="333.4" font-size="7.7" text-anchor="middle" fill="#222">Time (d.p.i.)</text>
<text x="12.6" y="248.1" font-size="7.3" text-anchor="middle" fill="#1a1a1a" transform="rotate(-90 12.6 248.1)">Percentage gp33<tspan font-size="4.53" dy="-2.77">+</tspan><tspan dy="2.77"> </tspan>of CD8<tspan font-size="4.53" dy="-2.77">+</tspan></text>
<line x1="69.22" y1="254.5" x2="69.22" y2="297.3" stroke="#cfcfcf" stroke-width="0.8"/>
<line x1="67.02" y1="254.5" x2="71.42" y2="254.5" stroke="#cfcfcf" stroke-width="0.8"/>
<line x1="67.02" y1="297.3" x2="71.42" y2="297.3" stroke="#cfcfcf" stroke-width="0.8"/>
<line x1="74.88" y1="273.6" x2="74.88" y2="295" stroke="#c4c4c4" stroke-width="0.8"/>
<line x1="72.68" y1="273.6" x2="77.08" y2="273.6" stroke="#c4c4c4" stroke-width="0.8"/>
<line x1="72.68" y1="295" x2="77.08" y2="295" stroke="#c4c4c4" stroke-width="0.8"/>
<line x1="244.68" y1="290.3" x2="244.68" y2="306.2" stroke="#bdbdbd" stroke-width="0.8"/>
<line x1="242.48" y1="290.3" x2="246.88" y2="290.3" stroke="#bdbdbd" stroke-width="0.8"/>
<line x1="242.48" y1="306.2" x2="246.88" y2="306.2" stroke="#bdbdbd" stroke-width="0.8"/>
<line x1="69.22" y1="243.9" x2="69.22" y2="270.6" stroke="#b8b8b8" stroke-width="0.8"/>
<line x1="67.02" y1="243.9" x2="71.42" y2="243.9" stroke="#b8b8b8" stroke-width="0.8"/>
<line x1="67.02" y1="270.6" x2="71.42" y2="270.6" stroke="#b8b8b8" stroke-width="0.8"/>
<line x1="74.88" y1="224" x2="74.88" y2="250" stroke="#a8a8a8" stroke-width="0.8"/>
<line x1="72.68" y1="224" x2="77.08" y2="224" stroke="#a8a8a8" stroke-width="0.8"/>
<line x1="72.68" y1="250" x2="77.08" y2="250" stroke="#a8a8a8" stroke-width="0.8"/>
<line x1="86.2" y1="211.9" x2="86.2" y2="265.6" stroke="#cccccc" stroke-width="0.8"/>
<line x1="84" y1="211.9" x2="88.4" y2="211.9" stroke="#cccccc" stroke-width="0.8"/>
<line x1="84" y1="265.6" x2="88.4" y2="265.6" stroke="#cccccc" stroke-width="0.8"/>
<line x1="114.5" y1="226.4" x2="114.5" y2="267.2" stroke="#bbbbbb" stroke-width="0.8"/>
<line x1="112.3" y1="226.4" x2="116.7" y2="226.4" stroke="#bbbbbb" stroke-width="0.8"/>
<line x1="112.3" y1="267.2" x2="116.7" y2="267.2" stroke="#bbbbbb" stroke-width="0.8"/>
<line x1="244.68" y1="261.8" x2="244.68" y2="265.2" stroke="#999" stroke-width="0.8"/>
<line x1="242.48" y1="261.8" x2="246.88" y2="261.8" stroke="#999" stroke-width="0.8"/>
<line x1="242.48" y1="265.2" x2="246.88" y2="265.2" stroke="#999" stroke-width="0.8"/>
<line x1="69.22" y1="225.6" x2="69.22" y2="243.2" stroke="#888" stroke-width="0.8"/>
<line x1="67.02" y1="225.6" x2="71.42" y2="225.6" stroke="#888" stroke-width="0.8"/>
<line x1="67.02" y1="243.2" x2="71.42" y2="243.2" stroke="#888" stroke-width="0.8"/>
<line x1="74.88" y1="211.9" x2="74.88" y2="223.1" stroke="#777" stroke-width="0.8"/>
<line x1="72.68" y1="211.9" x2="77.08" y2="211.9" stroke="#777" stroke-width="0.8"/>
<line x1="72.68" y1="223.1" x2="77.08" y2="223.1" stroke="#777" stroke-width="0.8"/>
<line x1="86.2" y1="244.3" x2="86.2" y2="260.9" stroke="#777" stroke-width="0.8"/>
<line x1="84" y1="244.3" x2="88.4" y2="244.3" stroke="#777" stroke-width="0.8"/>
<line x1="84" y1="260.9" x2="88.4" y2="260.9" stroke="#777" stroke-width="0.8"/>
<line x1="114.5" y1="241.2" x2="114.5" y2="257.2" stroke="#777" stroke-width="0.8"/>
<line x1="112.3" y1="241.2" x2="116.7" y2="241.2" stroke="#777" stroke-width="0.8"/>
<line x1="112.3" y1="257.2" x2="116.7" y2="257.2" stroke="#777" stroke-width="0.8"/>
<path d="M29.6 307.2 L69 275.9 L74.5 284.3 L86 304.9 L114.2 298.8 L244.6 297.8" stroke="#6a6a6a" stroke-width="0.85" fill="none"/>
<path d="M29.6 307.2 L69 257.6 L74.5 237 L86 238.9 L114.2 246.9 L244.6 263.4" stroke="#5a5a5a" stroke-width="0.85" fill="none"/>
<path d="M29.6 307.2 L69 234.3 L74.5 217.5 L86 252.6 L114.2 249.2 L244.6 253.2" stroke="#000" stroke-width="1.25" fill="none"/>
<rect x="27.2" y="304.8" width="4.8" height="4.8" fill="#d8d8d8" stroke="#a5a5a5" stroke-width="0.6"/>
<rect x="66.6" y="273.5" width="4.8" height="4.8" fill="#d8d8d8" stroke="#a5a5a5" stroke-width="0.6"/>
<rect x="72.1" y="281.9" width="4.8" height="4.8" fill="#d8d8d8" stroke="#a5a5a5" stroke-width="0.6"/>
<rect x="83.6" y="302.5" width="4.8" height="4.8" fill="#d8d8d8" stroke="#a5a5a5" stroke-width="0.6"/>
<rect x="111.8" y="296.4" width="4.8" height="4.8" fill="#d8d8d8" stroke="#a5a5a5" stroke-width="0.6"/>
<rect x="242.2" y="295.4" width="4.8" height="4.8" fill="#d8d8d8" stroke="#a5a5a5" stroke-width="0.6"/>
<path d="M29.6 304.2L32.4 309.2L26.8 309.2Z" fill="#6e6e6e"/>
<path d="M69 254.6L71.8 259.6L66.2 259.6Z" fill="#6e6e6e"/>
<path d="M74.5 234L77.3 239L71.7 239Z" fill="#6e6e6e"/>
<path d="M86 235.9L88.8 240.9L83.2 240.9Z" fill="#6e6e6e"/>
<path d="M114.2 243.9L117 248.9L111.4 248.9Z" fill="#6e6e6e"/>
<path d="M244.6 260.4L247.4 265.4L241.8 265.4Z" fill="#6e6e6e"/>
<circle cx="29.6" cy="307.2" r="2.5" fill="#000"/>
<circle cx="69" cy="234.3" r="2.5" fill="#000"/>
<circle cx="74.5" cy="217.5" r="2.5" fill="#000"/>
<circle cx="86" cy="252.6" r="2.5" fill="#000"/>
<circle cx="114.2" cy="249.2" r="2.5" fill="#000"/>
<circle cx="244.6" cy="253.2" r="2.5" fill="#000"/>
<line x1="187.6" y1="201.8" x2="196.9" y2="201.8" stroke="#bbb" stroke-width="0.8"/>
<circle cx="192" cy="201.8" r="2.4" fill="#000"/>
<line x1="187.6" y1="213.5" x2="196.9" y2="213.5" stroke="#bbb" stroke-width="0.8"/>
<rect x="189.6" y="211.1" width="4.8" height="4.8" fill="#d8d8d8" stroke="#a5a5a5" stroke-width="0.6"/>
<line x1="187.6" y1="225.5" x2="196.9" y2="225.5" stroke="#888" stroke-width="0.8"/>
<path d="M192 222.5L194.8 227.5L189.2 227.5Z" fill="#6e6e6e"/>
<text x="201.7" y="203.9" font-size="6.8" fill="#222">RISP WT</text>
<text x="201.7" y="215.6" font-size="6.8" fill="#222">RISP KO</text>
<text x="201" y="227.3" font-size="6.8" fill="#222">RISP KO + AOX</text>
<text x="269" y="183.6" font-size="12.5" font-weight="bold" fill="#000" stroke="#000" stroke-width="0.35">d</text>
<text x="332.8" y="186.5" font-size="9.1" text-anchor="middle">Lymph node</text>
<line x1="300.5" y1="220.6" x2="300.5" y2="320.5" stroke="#6a6a6a" stroke-width="0.85"/>
<line x1="296" y1="320.5" x2="365.2" y2="320.5" stroke="#7a7a7a" stroke-width="0.85"/>
<rect x="307.1" y="239.1" width="12.1" height="81.4" fill="#676767" stroke="#2a2a2a" stroke-width="0.9"/>
<line x1="313.15" y1="320.9" x2="313.15" y2="324.7" stroke="#888" stroke-width="0.8"/>
<text x="310.3" y="335.51" font-size="5.7" text-anchor="middle" fill="#333" transform="rotate(-45 310.3 333.51)">RISP</text>
<text x="316.19" y="339.22" font-size="5.7" text-anchor="middle" fill="#333" transform="rotate(-45 316.19 337.22)">WT</text>
<rect x="326.5" y="257.3" width="12" height="63.2" fill="#dadada" stroke="#2a2a2a" stroke-width="0.9"/>
<line x1="332.5" y1="320.9" x2="332.5" y2="324.7" stroke="#888" stroke-width="0.8"/>
<text x="329.65" y="335.51" font-size="5.7" text-anchor="middle" fill="#333" transform="rotate(-45 329.65 333.51)">RISP</text>
<text x="335.54" y="339.22" font-size="5.7" text-anchor="middle" fill="#333" transform="rotate(-45 335.54 337.22)">KO</text>
<rect x="346.3" y="249.3" width="12.1" height="71.2" fill="#a3a3a3" stroke="#444" stroke-width="0.9"/>
<line x1="352.35" y1="320.9" x2="352.35" y2="324.7" stroke="#888" stroke-width="0.8"/>
<text x="349.03" y="335.42" font-size="5.7" text-anchor="middle" fill="#333" transform="rotate(-45 349.03 333.42)">RISP</text>
<text x="350.64" y="344.16" font-size="5.7" text-anchor="middle" fill="#333" transform="rotate(-45 350.64 342.16)">KO + AOX</text>
<text x="281" y="271.7" font-size="7.5" text-anchor="middle" fill="#1a1a1a" transform="rotate(-90 281 271.7)">No. of gp33<tspan font-size="4.65" dy="-2.85">+</tspan><tspan dy="2.85"> </tspan>CD8<tspan font-size="4.65" dy="-2.85">+</tspan><tspan dy="2.85"> </tspan>T cells</text>
<line x1="296.2" y1="220.6" x2="300.5" y2="220.6" stroke="#555" stroke-width="0.8"/>
<text x="295.2" y="222.76" font-size="6" text-anchor="end" fill="#333">10<tspan font-size="3.72" dy="-2.52">5</tspan></text>
<line x1="296.2" y1="253.9" x2="300.5" y2="253.9" stroke="#555" stroke-width="0.8"/>
<text x="295.2" y="256.06" font-size="6" text-anchor="end" fill="#333">10<tspan font-size="3.72" dy="-2.52">4</tspan></text>
<line x1="296.2" y1="287.2" x2="300.5" y2="287.2" stroke="#555" stroke-width="0.8"/>
<text x="295.2" y="289.36" font-size="6" text-anchor="end" fill="#333">10<tspan font-size="3.72" dy="-2.52">3</tspan></text>
<line x1="296.2" y1="320.5" x2="300.5" y2="320.5" stroke="#555" stroke-width="0.8"/>
<text x="295.2" y="322.66" font-size="6" text-anchor="end" fill="#333">10<tspan font-size="3.72" dy="-2.52">2</tspan></text>
<line x1="313.2" y1="243" x2="313.2" y2="236" stroke="#888" stroke-width="0.7"/>
<line x1="310.6" y1="243" x2="315.8" y2="243" stroke="#888" stroke-width="0.7"/>
<line x1="310.6" y1="236" x2="315.8" y2="236" stroke="#888" stroke-width="0.7"/>
<line x1="332.4" y1="253" x2="332.4" y2="260.6" stroke="#666" stroke-width="0.7"/>
<line x1="329.8" y1="253" x2="335" y2="253" stroke="#666" stroke-width="0.7"/>
<line x1="329.8" y1="260.6" x2="335" y2="260.6" stroke="#666" stroke-width="0.7"/>
<line x1="352.3" y1="243.5" x2="352.3" y2="255.9" stroke="#444" stroke-width="0.7"/>
<line x1="349.7" y1="243.5" x2="354.9" y2="243.5" stroke="#444" stroke-width="0.7"/>
<line x1="349.7" y1="255.9" x2="354.9" y2="255.9" stroke="#444" stroke-width="0.7"/>
<circle cx="308.3" cy="234.8" r="1.4" fill="#000"/>
<circle cx="313.2" cy="232" r="1.4" fill="#000"/>
<circle cx="318.2" cy="234.1" r="1.4" fill="#000"/>
<circle cx="313.2" cy="236.9" r="1.4" fill="#000"/>
<circle cx="313.2" cy="245.7" r="1.4" fill="#000"/>
<circle cx="308.3" cy="250.1" r="1.4" fill="#000"/>
<circle cx="318.2" cy="248" r="1.4" fill="#000"/>
<rect x="331.1" y="244.41" width="2.59" height="2.59" fill="#000"/>
<rect x="331.1" y="246.41" width="2.59" height="2.59" fill="#000"/>
<rect x="331.1" y="248.81" width="2.59" height="2.59" fill="#000"/>
<rect x="331.1" y="252.21" width="2.59" height="2.59" fill="#000"/>
<rect x="331.1" y="258.81" width="2.59" height="2.59" fill="#000"/>
<rect x="328.1" y="262.6" width="2.59" height="2.59" fill="#000"/>
<rect x="334.4" y="262.9" width="2.59" height="2.59" fill="#000"/>
<rect x="331.1" y="284.1" width="2.59" height="2.59" fill="#000"/>
<path d="M352.3 230.91L353.77 233.56L350.83 233.56Z" fill="#000"/>
<path d="M349 246.11L350.47 248.76L347.53 248.76Z" fill="#000"/>
<path d="M355.6 245.71L357.07 248.36L354.13 248.36Z" fill="#000"/>
<path d="M352.3 250.71L353.77 253.36L350.83 253.36Z" fill="#000"/>
<path d="M352.3 254.31L353.77 256.96L350.83 256.96Z" fill="#000"/>
<path d="M352.3 268.41L353.77 271.06L350.83 271.06Z" fill="#000"/>
<path d="M352.3 281.11L353.77 283.76L350.83 283.76Z" fill="#000"/>
<line x1="310.1" y1="218.2" x2="331.8" y2="218.2" stroke="#444" stroke-width="0.9"/>
<path d="M320.7 211.6 L321.22 212.99 L322.7 213.05 L321.54 213.97 L321.93 215.4 L320.7 214.58 L319.47 215.4 L319.86 213.97 L318.7 213.05 L320.18 212.99Z" fill="#111"/>
<text x="382" y="183.6" font-size="12.5" font-weight="bold" fill="#000" stroke="#000" stroke-width="0.35">e</text>
<text x="441.5" y="186.5" font-size="9.1" text-anchor="middle">Spleen</text>
<line x1="408.5" y1="217.8" x2="408.5" y2="320.3" stroke="#6a6a6a" stroke-width="0.85"/>
<line x1="404" y1="320.3" x2="475.2" y2="320.3" stroke="#7a7a7a" stroke-width="0.85"/>
<rect x="415.1" y="228.2" width="12.4" height="92.1" fill="#676767" stroke="#2a2a2a" stroke-width="0.9"/>
<line x1="421.3" y1="320.7" x2="421.3" y2="324.5" stroke="#888" stroke-width="0.8"/>
<text x="418.45" y="335.31" font-size="5.7" text-anchor="middle" fill="#333" transform="rotate(-45 418.45 333.31)">RISP</text>
<text x="424.34" y="339.01" font-size="5.7" text-anchor="middle" fill="#333" transform="rotate(-45 424.34 337.02)">WT</text>
<rect x="435.5" y="263.9" width="12.2" height="56.4" fill="#dadada" stroke="#2a2a2a" stroke-width="0.9"/>
<line x1="441.6" y1="320.7" x2="441.6" y2="324.5" stroke="#888" stroke-width="0.8"/>
<text x="438.75" y="335.31" font-size="5.7" text-anchor="middle" fill="#333" transform="rotate(-45 438.75 333.31)">RISP</text>
<text x="444.64" y="339.01" font-size="5.7" text-anchor="middle" fill="#333" transform="rotate(-45 444.64 337.02)">KO</text>
<rect x="455.3" y="242.4" width="12.4" height="77.9" fill="#a3a3a3" stroke="#444" stroke-width="0.9"/>
<line x1="461.5" y1="320.7" x2="461.5" y2="324.5" stroke="#888" stroke-width="0.8"/>
<text x="458.18" y="335.22" font-size="5.7" text-anchor="middle" fill="#333" transform="rotate(-45 458.18 333.22)">RISP</text>
<text x="459.79" y="343.96" font-size="5.7" text-anchor="middle" fill="#333" transform="rotate(-45 459.79 341.96)">KO + AOX</text>
<text x="389.2" y="270.2" font-size="7.5" text-anchor="middle" fill="#1a1a1a" transform="rotate(-90 389.2 270.2)">No. of gp33<tspan font-size="4.65" dy="-2.85">+</tspan><tspan dy="2.85"> </tspan>CD8<tspan font-size="4.65" dy="-2.85">+</tspan><tspan dy="2.85"> </tspan>T cells</text>
<line x1="404.2" y1="217.8" x2="408.5" y2="217.8" stroke="#555" stroke-width="0.8"/>
<text x="403.2" y="219.96" font-size="6" text-anchor="end" fill="#333">10<tspan font-size="3.72" dy="-2.52">6</tspan></text>
<line x1="404.2" y1="243.4" x2="408.5" y2="243.4" stroke="#555" stroke-width="0.8"/>
<text x="403.2" y="245.56" font-size="6" text-anchor="end" fill="#333">10<tspan font-size="3.72" dy="-2.52">5</tspan></text>
<line x1="404.2" y1="269" x2="408.5" y2="269" stroke="#555" stroke-width="0.8"/>
<text x="403.2" y="271.16" font-size="6" text-anchor="end" fill="#333">10<tspan font-size="3.72" dy="-2.52">4</tspan></text>
<line x1="404.2" y1="294.7" x2="408.5" y2="294.7" stroke="#555" stroke-width="0.8"/>
<text x="403.2" y="296.86" font-size="6" text-anchor="end" fill="#333">10<tspan font-size="3.72" dy="-2.52">3</tspan></text>
<line x1="404.2" y1="320.3" x2="408.5" y2="320.3" stroke="#555" stroke-width="0.8"/>
<text x="403.2" y="322.46" font-size="6" text-anchor="end" fill="#333">10<tspan font-size="3.72" dy="-2.52">2</tspan></text>
<line x1="421.3" y1="225.5" x2="421.3" y2="231" stroke="#888" stroke-width="0.7"/>
<line x1="418.7" y1="225.5" x2="423.9" y2="225.5" stroke="#888" stroke-width="0.7"/>
<line x1="418.7" y1="231" x2="423.9" y2="231" stroke="#888" stroke-width="0.7"/>
<line x1="441.6" y1="260.6" x2="441.6" y2="270.8" stroke="#777" stroke-width="0.7"/>
<line x1="439" y1="260.6" x2="444.2" y2="260.6" stroke="#777" stroke-width="0.7"/>
<line x1="439" y1="270.8" x2="444.2" y2="270.8" stroke="#777" stroke-width="0.7"/>
<line x1="461.4" y1="240.2" x2="461.4" y2="245" stroke="#444" stroke-width="0.7"/>
<line x1="458.8" y1="240.2" x2="464" y2="240.2" stroke="#444" stroke-width="0.7"/>
<line x1="458.8" y1="245" x2="464" y2="245" stroke="#444" stroke-width="0.7"/>
<circle cx="416.3" cy="224.5" r="1.4" fill="#000"/>
<circle cx="421.7" cy="223.4" r="1.4" fill="#000"/>
<circle cx="426.7" cy="225" r="1.4" fill="#000"/>
<circle cx="421.2" cy="232.8" r="1.4" fill="#000"/>
<circle cx="426.7" cy="232" r="1.4" fill="#000"/>
<circle cx="426.7" cy="235.3" r="1.4" fill="#000"/>
<circle cx="416.3" cy="238.1" r="1.4" fill="#000"/>
<rect x="437" y="255.51" width="2.59" height="2.59" fill="#000"/>
<rect x="443.6" y="252.71" width="2.59" height="2.59" fill="#000"/>
<rect x="440.31" y="265.9" width="2.59" height="2.59" fill="#000"/>
<rect x="440.31" y="273.6" width="2.59" height="2.59" fill="#000"/>
<rect x="440.31" y="280.7" width="2.59" height="2.59" fill="#000"/>
<rect x="440.31" y="303.9" width="2.59" height="2.59" fill="#000"/>
<path d="M461.4 231.51L462.87 234.16L459.93 234.16Z" fill="#000"/>
<path d="M461.4 235.81L462.87 238.46L459.93 238.46Z" fill="#000"/>
<path d="M456.5 245.21L457.97 247.86L455.03 247.86Z" fill="#000"/>
<path d="M466.9 245.21L468.37 247.86L465.43 247.86Z" fill="#000"/>
<path d="M461.4 241.91L462.87 244.56L459.93 244.56Z" fill="#000"/>
<path d="M461.4 259.01L462.87 261.66L459.93 261.66Z" fill="#000"/>
<path d="M461.4 278.81L462.87 281.46L459.93 281.46Z" fill="#000"/>
<line x1="419" y1="199.7" x2="462.8" y2="199.7" stroke="#a5a5a5" stroke-width="0.9"/>
<path d="M439.9 191.9 L440.42 193.29 L441.9 193.35 L440.74 194.27 L441.13 195.7 L439.9 194.88 L438.67 195.7 L439.06 194.27 L437.9 193.35 L439.38 193.29Z" fill="#111"/>
<line x1="419" y1="212.6" x2="440.7" y2="212.6" stroke="#a5a5a5" stroke-width="0.9"/>
<path d="M429.4 205.2 L429.92 206.59 L431.4 206.65 L430.24 207.57 L430.63 209 L429.4 208.18 L428.17 209 L428.56 207.57 L427.4 206.65 L428.88 206.59Z" fill="#111"/>
<text x="486.6" y="183.6" font-size="12.5" font-weight="bold" fill="#000" stroke="#000" stroke-width="0.35">f</text>
<rect x="518.2" y="188.8" width="144.3" height="130.5" fill="none" stroke="#6a6a6a" stroke-width="0.9"/>
<line x1="655.8" y1="189.5" x2="655.8" y2="318.8" stroke="#efefef" stroke-width="0.8"/>
<line x1="514.4" y1="190.05" x2="518.2" y2="190.05" stroke="#555" stroke-width="0.8"/>
<text x="512.6" y="192.25" font-size="6.2" text-anchor="end" fill="#333">30</text>
<line x1="514.4" y1="214.8" x2="518.2" y2="214.8" stroke="#555" stroke-width="0.8"/>
<text x="512.6" y="217" font-size="6.2" text-anchor="end" fill="#333">20</text>
<line x1="514.4" y1="239.55" x2="518.2" y2="239.55" stroke="#555" stroke-width="0.8"/>
<text x="512.6" y="241.75" font-size="6.2" text-anchor="end" fill="#333">10</text>
<line x1="514.4" y1="264.3" x2="518.2" y2="264.3" stroke="#555" stroke-width="0.8"/>
<text x="512.6" y="266.5" font-size="6.2" text-anchor="end" fill="#333">0</text>
<line x1="514.4" y1="289.05" x2="518.2" y2="289.05" stroke="#555" stroke-width="0.8"/>
<text x="512.6" y="291.25" font-size="6.2" text-anchor="end" fill="#333">−10</text>
<line x1="514.4" y1="313.8" x2="518.2" y2="313.8" stroke="#555" stroke-width="0.8"/>
<text x="512.6" y="316" font-size="6.2" text-anchor="end" fill="#333">−20</text>
<line x1="524.7" y1="319.3" x2="524.7" y2="323.1" stroke="#555" stroke-width="0.8"/>
<text x="524.7" y="330.8" font-size="6.2" text-anchor="middle" fill="#333">−20</text>
<line x1="561.9" y1="319.3" x2="561.9" y2="323.1" stroke="#555" stroke-width="0.8"/>
<text x="561.9" y="330.8" font-size="6.2" text-anchor="middle" fill="#333">0</text>
<line x1="599.1" y1="319.3" x2="599.1" y2="323.1" stroke="#555" stroke-width="0.8"/>
<text x="599.1" y="330.8" font-size="6.2" text-anchor="middle" fill="#333">20</text>
<line x1="636.3" y1="319.3" x2="636.3" y2="323.1" stroke="#555" stroke-width="0.8"/>
<text x="636.3" y="330.8" font-size="6.2" text-anchor="middle" fill="#333">40</text>
<text x="592.9" y="342" font-size="7.4" text-anchor="middle" fill="#222">PC1 (36% of variance explained)</text>
<text x="497.1" y="254.1" font-size="7.4" text-anchor="middle" fill="#1a1a1a" transform="rotate(-90 497.1 254.1)">PC2 (15% of variance explained)</text>
<circle cx="525.3" cy="251.6" r="2.3" fill="#5d5d5d"/>
<circle cx="527.5" cy="246" r="2.3" fill="#5d5d5d"/>
<circle cx="531.4" cy="253.2" r="2.3" fill="#5d5d5d"/>
<circle cx="534.6" cy="255.9" r="2.3" fill="#5d5d5d"/>
<circle cx="539.7" cy="238.7" r="2.3" fill="#5d5d5d"/>
<circle cx="540.5" cy="251.1" r="2.3" fill="#8f8f8f"/>
<circle cx="540.2" cy="262.8" r="2.3" fill="#8f8f8f"/>
<circle cx="552.7" cy="273.8" r="2.3" fill="#8f8f8f"/>
<circle cx="579.2" cy="301.9" r="2.3" fill="#d6d6d6"/>
<circle cx="587.9" cy="313.4" r="2.3" fill="#d6d6d6"/>
<circle cx="595.4" cy="291" r="2.3" fill="#d6d6d6"/>
<circle cx="592.7" cy="306.5" r="2.3" fill="#d6d6d6"/>
<circle cx="655.8" cy="194.4" r="2.3" fill="#d6d6d6"/>
<text x="514.9" y="357.2" font-size="7.6" fill="#222">Genotype</text>
<circle cx="557.5" cy="354.8" r="1.6" fill="#d6d6d6"/>
<text x="561.6" y="357" font-size="6.1" fill="#333">KO</text>
<circle cx="583.2" cy="354.8" r="1.6" fill="#8f8f8f"/>
<text x="587.2" y="357" font-size="6.1" fill="#333">KO + AOX</text>
<circle cx="631" cy="354.8" r="1.6" fill="#5d5d5d"/>
<text x="635" y="357" font-size="6.1" fill="#333">WT</text>
<text x="0.6" y="382.6" font-size="12.5" font-weight="bold" fill="#000" stroke="#000" stroke-width="0.35">g</text>
<rect x="22.9" y="382" width="20.28" height="11.3" fill="#E64B35"/>
<rect x="42.88" y="382" width="10.29" height="11.3" fill="#4DBBD5"/>
<rect x="52.87" y="382" width="10.29" height="11.3" fill="#E64B35"/>
<rect x="62.86" y="382" width="10.29" height="11.3" fill="#4DBBD5"/>
<rect x="72.85" y="382" width="10.29" height="11.3" fill="#E64B35"/>
<rect x="82.84" y="382" width="10.29" height="11.3" fill="#4DBBD5"/>
<rect x="92.83" y="382" width="50.25" height="11.3" fill="#00A087"/>
<rect x="142.78" y="382" width="10.29" height="11.3" fill="#E64B35"/>
<rect x="152.77" y="382" width="20.28" height="11.3" fill="#00A087"/>
<rect x="172.75" y="382" width="10.29" height="11.3" fill="#4DBBD5"/>
<rect x="182.74" y="382" width="10.29" height="11.3" fill="#00A087"/>
<rect x="192.73" y="382" width="20.28" height="11.3" fill="#4DBBD5"/>
<rect x="212.71" y="382" width="20.28" height="11.3" fill="#00A087"/>
<rect x="232.69" y="382" width="49.95" height="11.3" fill="#E64B35"/>
<rect x="22.9" y="394.2" width="129.87" height="10.8" fill="#8491B4"/>
<rect x="152.77" y="394.2" width="129.87" height="10.8" fill="#3C5488"/>
<rect x="22.9" y="407.3" width="10.49" height="18.66" fill="#d6c8e4"/>
<rect x="32.89" y="407.3" width="10.49" height="18.66" fill="#d2c2e1"/>
<rect x="42.88" y="407.3" width="10.49" height="18.66" fill="#cebcde"/>
<rect x="52.87" y="407.3" width="10.49" height="18.66" fill="#d0c0e0"/>
<rect x="62.86" y="407.3" width="10.49" height="18.66" fill="#cebcde"/>
<rect x="72.85" y="407.3" width="10.49" height="18.66" fill="#d6c8e4"/>
<rect x="82.84" y="407.3" width="10.49" height="18.66" fill="#d6c8e4"/>
<rect x="92.83" y="407.3" width="10.49" height="18.66" fill="#d6c8e4"/>
<rect x="102.82" y="407.3" width="10.49" height="18.66" fill="#dbcee7"/>
<rect x="112.81" y="407.3" width="10.49" height="18.66" fill="#dbcee7"/>
<rect x="122.8" y="407.3" width="10.49" height="18.66" fill="#d6c8e4"/>
<rect x="132.79" y="407.3" width="10.49" height="18.66" fill="#dbcee7"/>
<rect x="142.78" y="407.3" width="10.49" height="18.66" fill="#e7dbed"/>
<rect x="152.77" y="407.3" width="10.49" height="18.66" fill="#fef6f3"/>
<rect x="162.76" y="407.3" width="10.49" height="18.66" fill="#ece2f1"/>
<rect x="172.75" y="407.3" width="10.49" height="18.66" fill="#fef6f3"/>
<rect x="182.74" y="407.3" width="10.49" height="18.66" fill="#feeee8"/>
<rect x="192.73" y="407.3" width="10.49" height="18.66" fill="#f4eef6"/>
<rect x="202.72" y="407.3" width="10.49" height="18.66" fill="#f69b84"/>
<rect x="212.71" y="407.3" width="10.49" height="18.66" fill="#ffffff"/>
<rect x="222.7" y="407.3" width="10.49" height="18.66" fill="#fffbf9"/>
<rect x="232.69" y="407.3" width="10.49" height="18.66" fill="#ee6b52"/>
<rect x="242.68" y="407.3" width="10.49" height="18.66" fill="#ef7158"/>
<rect x="252.67" y="407.3" width="10.49" height="18.66" fill="#ee6b52"/>
<rect x="262.66" y="407.3" width="10.49" height="18.66" fill="#fef2ed"/>
<rect x="272.65" y="407.3" width="9.99" height="18.66" fill="#f8ab95"/>
<rect x="22.9" y="425.46" width="10.49" height="18.66" fill="#e2d5ea"/>
<rect x="32.89" y="425.46" width="10.49" height="18.66" fill="#e7dbed"/>
<rect x="42.88" y="425.46" width="10.49" height="18.66" fill="#e7dbed"/>
<rect x="52.87" y="425.46" width="10.49" height="18.66" fill="#e5d8ec"/>
<rect x="62.86" y="425.46" width="10.49" height="18.66" fill="#e7dbed"/>
<rect x="72.85" y="425.46" width="10.49" height="18.66" fill="#f7f3f9"/>
<rect x="82.84" y="425.46" width="10.49" height="18.66" fill="#dccfe8"/>
<rect x="92.83" y="425.46" width="10.49" height="18.66" fill="#e2d5ea"/>
<rect x="102.82" y="425.46" width="10.49" height="18.66" fill="#e7dbed"/>
<rect x="112.81" y="425.46" width="10.49" height="18.66" fill="#e7dbed"/>
<rect x="122.8" y="425.46" width="10.49" height="18.66" fill="#e5d8ec"/>
<rect x="132.79" y="425.46" width="10.49" height="18.66" fill="#dccfe8"/>
<rect x="142.78" y="425.46" width="10.49" height="18.66" fill="#f0e8f4"/>
<rect x="152.77" y="425.46" width="10.49" height="18.66" fill="#e5d8ec"/>
<rect x="162.76" y="425.46" width="10.49" height="18.66" fill="#f7f3f9"/>
<rect x="172.75" y="425.46" width="10.49" height="18.66" fill="#f0e8f4"/>
<rect x="182.74" y="425.46" width="10.49" height="18.66" fill="#e5d8ec"/>
<rect x="192.73" y="425.46" width="10.49" height="18.66" fill="#f6f1f8"/>
<rect x="202.72" y="425.46" width="10.49" height="18.66" fill="#fdfcfd"/>
<rect x="212.71" y="425.46" width="10.49" height="18.66" fill="#f0e8f4"/>
<rect x="222.7" y="425.46" width="10.49" height="18.66" fill="#ded1e9"/>
<rect x="232.69" y="425.46" width="10.49" height="18.66" fill="#e82020"/>
<rect x="242.68" y="425.46" width="10.49" height="18.66" fill="#ee4e38"/>
<rect x="252.67" y="425.46" width="10.49" height="18.66" fill="#f7a38c"/>
<rect x="262.66" y="425.46" width="10.49" height="18.66" fill="#fffcfb"/>
<rect x="272.65" y="425.46" width="9.99" height="18.66" fill="#f69f88"/>
<rect x="22.9" y="443.62" width="10.49" height="18.66" fill="#d8cae5"/>
<rect x="32.89" y="443.62" width="10.49" height="18.66" fill="#d8cae5"/>
<rect x="42.88" y="443.62" width="10.49" height="18.66" fill="#d6c8e4"/>
<rect x="52.87" y="443.62" width="10.49" height="18.66" fill="#d8cae5"/>
<rect x="62.86" y="443.62" width="10.49" height="18.66" fill="#d5c6e3"/>
<rect x="72.85" y="443.62" width="10.49" height="18.66" fill="#d8cae5"/>
<rect x="82.84" y="443.62" width="10.49" height="18.66" fill="#d6c8e4"/>
<rect x="92.83" y="443.62" width="10.49" height="18.66" fill="#d5c6e3"/>
<rect x="102.82" y="443.62" width="10.49" height="18.66" fill="#d6c8e4"/>
<rect x="112.81" y="443.62" width="10.49" height="18.66" fill="#d6c8e4"/>
<rect x="122.8" y="443.62" width="10.49" height="18.66" fill="#d5c6e3"/>
<rect x="132.79" y="443.62" width="10.49" height="18.66" fill="#d4c4e2"/>
<rect x="142.78" y="443.62" width="10.49" height="18.66" fill="#ffffff"/>
<rect x="152.77" y="443.62" width="10.49" height="18.66" fill="#ffffff"/>
<rect x="162.76" y="443.62" width="10.49" height="18.66" fill="#f6f1f8"/>
<rect x="172.75" y="443.62" width="10.49" height="18.66" fill="#ece2f1"/>
<rect x="182.74" y="443.62" width="10.49" height="18.66" fill="#ffffff"/>
<rect x="192.73" y="443.62" width="10.49" height="18.66" fill="#fdfcfd"/>
<rect x="202.72" y="443.62" width="10.49" height="18.66" fill="#f9f6fa"/>
<rect x="212.71" y="443.62" width="10.49" height="18.66" fill="#ffffff"/>
<rect x="222.7" y="443.62" width="10.49" height="18.66" fill="#faf8fc"/>
<rect x="232.69" y="443.62" width="10.49" height="18.66" fill="#eb3a28"/>
<rect x="242.68" y="443.62" width="10.49" height="18.66" fill="#fbc2ad"/>
<rect x="252.67" y="443.62" width="10.49" height="18.66" fill="#f48b72"/>
<rect x="262.66" y="443.62" width="10.49" height="18.66" fill="#ee4e38"/>
<rect x="272.65" y="443.62" width="9.99" height="18.66" fill="#fbc2ad"/>
<rect x="22.9" y="461.78" width="10.49" height="18.66" fill="#e5d8ec"/>
<rect x="32.89" y="461.78" width="10.49" height="18.66" fill="#dccfe8"/>
<rect x="42.88" y="461.78" width="10.49" height="18.66" fill="#d2c2e1"/>
<rect x="52.87" y="461.78" width="10.49" height="18.66" fill="#dccfe8"/>
<rect x="62.86" y="461.78" width="10.49" height="18.66" fill="#d8cae5"/>
<rect x="72.85" y="461.78" width="10.49" height="18.66" fill="#e2d5ea"/>
<rect x="82.84" y="461.78" width="10.49" height="18.66" fill="#d8cae5"/>
<rect x="92.83" y="461.78" width="10.49" height="18.66" fill="#d0c0e0"/>
<rect x="102.82" y="461.78" width="10.49" height="18.66" fill="#dccfe8"/>
<rect x="112.81" y="461.78" width="10.49" height="18.66" fill="#d0c0e0"/>
<rect x="122.8" y="461.78" width="10.49" height="18.66" fill="#cebcde"/>
<rect x="132.79" y="461.78" width="10.49" height="18.66" fill="#d0c0e0"/>
<rect x="142.78" y="461.78" width="10.49" height="18.66" fill="#f1eaf5"/>
<rect x="152.77" y="461.78" width="10.49" height="18.66" fill="#fef2ed"/>
<rect x="162.76" y="461.78" width="10.49" height="18.66" fill="#fffdfd"/>
<rect x="172.75" y="461.78" width="10.49" height="18.66" fill="#ffffff"/>
<rect x="182.74" y="461.78" width="10.49" height="18.66" fill="#fbf9fc"/>
<rect x="192.73" y="461.78" width="10.49" height="18.66" fill="#fffdfd"/>
<rect x="202.72" y="461.78" width="10.49" height="18.66" fill="#fbf9fc"/>
<rect x="212.71" y="461.78" width="10.49" height="18.66" fill="#eee5f3"/>
<rect x="222.7" y="461.78" width="10.49" height="18.66" fill="#fbf9fc"/>
<rect x="232.69" y="461.78" width="10.49" height="18.66" fill="#f48b72"/>
<rect x="242.68" y="461.78" width="10.49" height="18.66" fill="#fbccbb"/>
<rect x="252.67" y="461.78" width="10.49" height="18.66" fill="#eb3a28"/>
<rect x="262.66" y="461.78" width="10.49" height="18.66" fill="#fde5dc"/>
<rect x="272.65" y="461.78" width="9.99" height="18.66" fill="#eb3a28"/>
<rect x="22.9" y="479.94" width="10.49" height="18.66" fill="#d6c8e4"/>
<rect x="32.89" y="479.94" width="10.49" height="18.66" fill="#e0d3ea"/>
<rect x="42.88" y="479.94" width="10.49" height="18.66" fill="#dacce6"/>
<rect x="52.87" y="479.94" width="10.49" height="18.66" fill="#dacce6"/>
<rect x="62.86" y="479.94" width="10.49" height="18.66" fill="#dacce6"/>
<rect x="72.85" y="479.94" width="10.49" height="18.66" fill="#dacce6"/>
<rect x="82.84" y="479.94" width="10.49" height="18.66" fill="#dacce6"/>
<rect x="92.83" y="479.94" width="10.49" height="18.66" fill="#dacce6"/>
<rect x="102.82" y="479.94" width="10.49" height="18.66" fill="#dacce6"/>
<rect x="112.81" y="479.94" width="10.49" height="18.66" fill="#e0d3ea"/>
<rect x="122.8" y="479.94" width="10.49" height="18.66" fill="#e2d5ea"/>
<rect x="132.79" y="479.94" width="10.49" height="18.66" fill="#dacce6"/>
<rect x="142.78" y="479.94" width="10.49" height="18.66" fill="#f1eaf5"/>
<rect x="152.77" y="479.94" width="10.49" height="18.66" fill="#fffbf9"/>
<rect x="162.76" y="479.94" width="10.49" height="18.66" fill="#ece2f1"/>
<rect x="172.75" y="479.94" width="10.49" height="18.66" fill="#f6f1f8"/>
<rect x="182.74" y="479.94" width="10.49" height="18.66" fill="#ffffff"/>
<rect x="192.73" y="479.94" width="10.49" height="18.66" fill="#f4eef6"/>
<rect x="202.72" y="479.94" width="10.49" height="18.66" fill="#f4eef6"/>
<rect x="212.71" y="479.94" width="10.49" height="18.66" fill="#eae0f0"/>
<rect x="222.7" y="479.94" width="10.49" height="18.66" fill="#ffffff"/>
<rect x="232.69" y="479.94" width="10.49" height="18.66" fill="#f9b39d"/>
<rect x="242.68" y="479.94" width="10.49" height="18.66" fill="#f9b39d"/>
<rect x="252.67" y="479.94" width="10.49" height="18.66" fill="#f48b72"/>
<rect x="262.66" y="479.94" width="10.49" height="18.66" fill="#fabea9"/>
<rect x="272.65" y="479.94" width="9.99" height="18.66" fill="#e82020"/>
<rect x="22.9" y="498.1" width="10.49" height="18.66" fill="#dacce6"/>
<rect x="32.89" y="498.1" width="10.49" height="18.66" fill="#e2d5ea"/>
<rect x="42.88" y="498.1" width="10.49" height="18.66" fill="#dacce6"/>
<rect x="52.87" y="498.1" width="10.49" height="18.66" fill="#dacce6"/>
<rect x="62.86" y="498.1" width="10.49" height="18.66" fill="#dacce6"/>
<rect x="72.85" y="498.1" width="10.49" height="18.66" fill="#dacce6"/>
<rect x="82.84" y="498.1" width="10.49" height="18.66" fill="#dacce6"/>
<rect x="92.83" y="498.1" width="10.49" height="18.66" fill="#dacce6"/>
<rect x="102.82" y="498.1" width="10.49" height="18.66" fill="#dacce6"/>
<rect x="112.81" y="498.1" width="10.49" height="18.66" fill="#dacce6"/>
<rect x="122.8" y="498.1" width="10.49" height="18.66" fill="#dacce6"/>
<rect x="132.79" y="498.1" width="10.49" height="18.66" fill="#dacce6"/>
<rect x="142.78" y="498.1" width="10.49" height="18.66" fill="#fef4f0"/>
<rect x="152.77" y="498.1" width="10.49" height="18.66" fill="#f1eaf5"/>
<rect x="162.76" y="498.1" width="10.49" height="18.66" fill="#eae0f0"/>
<rect x="172.75" y="498.1" width="10.49" height="18.66" fill="#fbf9fc"/>
<rect x="182.74" y="498.1" width="10.49" height="18.66" fill="#eadeef"/>
<rect x="192.73" y="498.1" width="10.49" height="18.66" fill="#f7f3f9"/>
<rect x="202.72" y="498.1" width="10.49" height="18.66" fill="#f7f3f9"/>
<rect x="212.71" y="498.1" width="10.49" height="18.66" fill="#e7dbed"/>
<rect x="222.7" y="498.1" width="10.49" height="18.66" fill="#e7dbed"/>
<rect x="232.69" y="498.1" width="10.49" height="18.66" fill="#fabea9"/>
<rect x="242.68" y="498.1" width="10.49" height="18.66" fill="#fabea9"/>
<rect x="252.67" y="498.1" width="10.49" height="18.66" fill="#eb3a28"/>
<rect x="262.66" y="498.1" width="10.49" height="18.66" fill="#ee6b52"/>
<rect x="272.65" y="498.1" width="9.99" height="18.66" fill="#ee6b52"/>
<rect x="22.9" y="516.26" width="10.49" height="18.66" fill="#dccfe8"/>
<rect x="32.89" y="516.26" width="10.49" height="18.66" fill="#e5d8ec"/>
<rect x="42.88" y="516.26" width="10.49" height="18.66" fill="#dacce6"/>
<rect x="52.87" y="516.26" width="10.49" height="18.66" fill="#dacce6"/>
<rect x="62.86" y="516.26" width="10.49" height="18.66" fill="#dacce6"/>
<rect x="72.85" y="516.26" width="10.49" height="18.66" fill="#e5d8ec"/>
<rect x="82.84" y="516.26" width="10.49" height="18.66" fill="#dacce6"/>
<rect x="92.83" y="516.26" width="10.49" height="18.66" fill="#dacce6"/>
<rect x="102.82" y="516.26" width="10.49" height="18.66" fill="#dacce6"/>
<rect x="112.81" y="516.26" width="10.49" height="18.66" fill="#dacce6"/>
<rect x="122.8" y="516.26" width="10.49" height="18.66" fill="#e2d5ea"/>
<rect x="132.79" y="516.26" width="10.49" height="18.66" fill="#dacce6"/>
<rect x="142.78" y="516.26" width="10.49" height="18.66" fill="#ffffff"/>
<rect x="152.77" y="516.26" width="10.49" height="18.66" fill="#ece2f1"/>
<rect x="162.76" y="516.26" width="10.49" height="18.66" fill="#f3ecf6"/>
<rect x="172.75" y="516.26" width="10.49" height="18.66" fill="#faf7fb"/>
<rect x="182.74" y="516.26" width="10.49" height="18.66" fill="#ece2f1"/>
<rect x="192.73" y="516.26" width="10.49" height="18.66" fill="#ece2f1"/>
<rect x="202.72" y="516.26" width="10.49" height="18.66" fill="#f4eef6"/>
<rect x="212.71" y="516.26" width="10.49" height="18.66" fill="#e8dcee"/>
<rect x="222.7" y="516.26" width="10.49" height="18.66" fill="#e8dcee"/>
<rect x="232.69" y="516.26" width="10.49" height="18.66" fill="#f8a791"/>
<rect x="242.68" y="516.26" width="10.49" height="18.66" fill="#f8a791"/>
<rect x="252.67" y="516.26" width="10.49" height="18.66" fill="#eb3a28"/>
<rect x="262.66" y="516.26" width="10.49" height="18.66" fill="#f7a38c"/>
<rect x="272.65" y="516.26" width="9.99" height="18.66" fill="#ed4733"/>
<rect x="22.9" y="534.42" width="10.49" height="18.66" fill="#e3d6eb"/>
<rect x="32.89" y="534.42" width="10.49" height="18.66" fill="#e8dcee"/>
<rect x="42.88" y="534.42" width="10.49" height="18.66" fill="#e5d8ec"/>
<rect x="52.87" y="534.42" width="10.49" height="18.66" fill="#e5d8ec"/>
<rect x="62.86" y="534.42" width="10.49" height="18.66" fill="#e3d6eb"/>
<rect x="72.85" y="534.42" width="10.49" height="18.66" fill="#e7dbed"/>
<rect x="82.84" y="534.42" width="10.49" height="18.66" fill="#e3d6eb"/>
<rect x="92.83" y="534.42" width="10.49" height="18.66" fill="#e3d6eb"/>
<rect x="102.82" y="534.42" width="10.49" height="18.66" fill="#e3d6eb"/>
<rect x="112.81" y="534.42" width="10.49" height="18.66" fill="#e3d6eb"/>
<rect x="122.8" y="534.42" width="10.49" height="18.66" fill="#e3d6eb"/>
<rect x="132.79" y="534.42" width="10.49" height="18.66" fill="#eee5f3"/>
<rect x="142.78" y="534.42" width="10.49" height="18.66" fill="#fffcfb"/>
<rect x="152.77" y="534.42" width="10.49" height="18.66" fill="#e5d8ec"/>
<rect x="162.76" y="534.42" width="10.49" height="18.66" fill="#eadeef"/>
<rect x="172.75" y="534.42" width="10.49" height="18.66" fill="#eee5f3"/>
<rect x="182.74" y="534.42" width="10.49" height="18.66" fill="#ede3f1"/>
<rect x="192.73" y="534.42" width="10.49" height="18.66" fill="#f4eef6"/>
<rect x="202.72" y="534.42" width="10.49" height="18.66" fill="#f4eef6"/>
<rect x="212.71" y="534.42" width="10.49" height="18.66" fill="#f2ebf5"/>
<rect x="222.7" y="534.42" width="10.49" height="18.66" fill="#e5d8ec"/>
<rect x="232.69" y="534.42" width="10.49" height="18.66" fill="#fbc5b0"/>
<rect x="242.68" y="534.42" width="10.49" height="18.66" fill="#fbc5b0"/>
<rect x="252.67" y="534.42" width="10.49" height="18.66" fill="#fabea9"/>
<rect x="262.66" y="534.42" width="10.49" height="18.66" fill="#ee5d45"/>
<rect x="272.65" y="534.42" width="9.99" height="18.66" fill="#e82020"/>
<rect x="22.9" y="552.58" width="10.49" height="18.66" fill="#fef4f1"/>
<rect x="32.89" y="552.58" width="10.49" height="18.66" fill="#fef3ef"/>
<rect x="42.88" y="552.58" width="10.49" height="18.66" fill="#fdfdfe"/>
<rect x="52.87" y="552.58" width="10.49" height="18.66" fill="#fffcfa"/>
<rect x="62.86" y="552.58" width="10.49" height="18.66" fill="#f1eaf5"/>
<rect x="72.85" y="552.58" width="10.49" height="18.66" fill="#fcfafd"/>
<rect x="82.84" y="552.58" width="10.49" height="18.66" fill="#f1eaf5"/>
<rect x="92.83" y="552.58" width="10.49" height="18.66" fill="#ede3f1"/>
<rect x="102.82" y="552.58" width="10.49" height="18.66" fill="#faf8fc"/>
<rect x="112.81" y="552.58" width="10.49" height="18.66" fill="#ede4f2"/>
<rect x="122.8" y="552.58" width="10.49" height="18.66" fill="#f1eaf5"/>
<rect x="132.79" y="552.58" width="10.49" height="18.66" fill="#f5f0f8"/>
<rect x="142.78" y="552.58" width="10.49" height="18.66" fill="#fef4f0"/>
<rect x="152.77" y="552.58" width="10.49" height="18.66" fill="#c9b6db"/>
<rect x="162.76" y="552.58" width="10.49" height="18.66" fill="#bfacd6"/>
<rect x="172.75" y="552.58" width="10.49" height="18.66" fill="#d2c2e1"/>
<rect x="182.74" y="552.58" width="10.49" height="18.66" fill="#cfbedf"/>
<rect x="192.73" y="552.58" width="10.49" height="18.66" fill="#cfbedf"/>
<rect x="202.72" y="552.58" width="10.49" height="18.66" fill="#dbcee7"/>
<rect x="212.71" y="552.58" width="10.49" height="18.66" fill="#ccbadd"/>
<rect x="222.7" y="552.58" width="10.49" height="18.66" fill="#c6b2d9"/>
<rect x="232.69" y="552.58" width="10.49" height="18.66" fill="#f9b39d"/>
<rect x="242.68" y="552.58" width="10.49" height="18.66" fill="#f9b39d"/>
<rect x="252.67" y="552.58" width="10.49" height="18.66" fill="#f8ab95"/>
<rect x="262.66" y="552.58" width="10.49" height="18.66" fill="#fce0d6"/>
<rect x="272.65" y="552.58" width="9.99" height="18.66" fill="#e82020"/>
<rect x="22.9" y="570.74" width="10.49" height="18.66" fill="#d5c6e3"/>
<rect x="32.89" y="570.74" width="10.49" height="18.66" fill="#d5c6e3"/>
<rect x="42.88" y="570.74" width="10.49" height="18.66" fill="#ded1e9"/>
<rect x="52.87" y="570.74" width="10.49" height="18.66" fill="#d5c6e3"/>
<rect x="62.86" y="570.74" width="10.49" height="18.66" fill="#d6c8e4"/>
<rect x="72.85" y="570.74" width="10.49" height="18.66" fill="#d5c6e3"/>
<rect x="82.84" y="570.74" width="10.49" height="18.66" fill="#f9f6fa"/>
<rect x="92.83" y="570.74" width="10.49" height="18.66" fill="#d8cae5"/>
<rect x="102.82" y="570.74" width="10.49" height="18.66" fill="#d5c6e3"/>
<rect x="112.81" y="570.74" width="10.49" height="18.66" fill="#ded1e9"/>
<rect x="122.8" y="570.74" width="10.49" height="18.66" fill="#ffffff"/>
<rect x="132.79" y="570.74" width="10.49" height="18.66" fill="#fcd4c6"/>
<rect x="142.78" y="570.74" width="10.49" height="18.66" fill="#f9f6fa"/>
<rect x="152.77" y="570.74" width="10.49" height="18.66" fill="#ffffff"/>
<rect x="162.76" y="570.74" width="10.49" height="18.66" fill="#f6f1f8"/>
<rect x="172.75" y="570.74" width="10.49" height="18.66" fill="#fffcfb"/>
<rect x="182.74" y="570.74" width="10.49" height="18.66" fill="#feefea"/>
<rect x="192.73" y="570.74" width="10.49" height="18.66" fill="#eee5f3"/>
<rect x="202.72" y="570.74" width="10.49" height="18.66" fill="#d5c6e3"/>
<rect x="212.71" y="570.74" width="10.49" height="18.66" fill="#dacce6"/>
<rect x="222.7" y="570.74" width="10.49" height="18.66" fill="#ed4733"/>
<rect x="232.69" y="570.74" width="10.49" height="18.66" fill="#f1eaf5"/>
<rect x="242.68" y="570.74" width="10.49" height="18.66" fill="#f9f6fa"/>
<rect x="252.67" y="570.74" width="10.49" height="18.66" fill="#f3856c"/>
<rect x="262.66" y="570.74" width="10.49" height="18.66" fill="#fbccbb"/>
<rect x="272.65" y="570.74" width="9.99" height="18.66" fill="#eb3a28"/>
<rect x="22.9" y="588.9" width="10.49" height="18.66" fill="#c9b6db"/>
<rect x="32.89" y="588.9" width="10.49" height="18.66" fill="#c9b6db"/>
<rect x="42.88" y="588.9" width="10.49" height="18.66" fill="#c9b6db"/>
<rect x="52.87" y="588.9" width="10.49" height="18.66" fill="#c9b6db"/>
<rect x="62.86" y="588.9" width="10.49" height="18.66" fill="#c9b6db"/>
<rect x="72.85" y="588.9" width="10.49" height="18.66" fill="#c9b6db"/>
<rect x="82.84" y="588.9" width="10.49" height="18.66" fill="#c9b6db"/>
<rect x="92.83" y="588.9" width="10.49" height="18.66" fill="#c9b6db"/>
<rect x="102.82" y="588.9" width="10.49" height="18.66" fill="#c9b6db"/>
<rect x="112.81" y="588.9" width="10.49" height="18.66" fill="#c9b6db"/>
<rect x="122.8" y="588.9" width="10.49" height="18.66" fill="#c9b6db"/>
<rect x="132.79" y="588.9" width="10.49" height="18.66" fill="#c9b6db"/>
<rect x="142.78" y="588.9" width="10.49" height="18.66" fill="#d6c8e4"/>
<rect x="152.77" y="588.9" width="10.49" height="18.66" fill="#fbc2ad"/>
<rect x="162.76" y="588.9" width="10.49" height="18.66" fill="#f8ab95"/>
<rect x="172.75" y="588.9" width="10.49" height="18.66" fill="#fffbf9"/>
<rect x="182.74" y="588.9" width="10.49" height="18.66" fill="#f69b84"/>
<rect x="192.73" y="588.9" width="10.49" height="18.66" fill="#fbc2ad"/>
<rect x="202.72" y="588.9" width="10.49" height="18.66" fill="#fcdcd0"/>
<rect x="212.71" y="588.9" width="10.49" height="18.66" fill="#f28168"/>
<rect x="222.7" y="588.9" width="10.49" height="18.66" fill="#f7a38c"/>
<rect x="232.69" y="588.9" width="10.49" height="18.66" fill="#fcd2c2"/>
<rect x="242.68" y="588.9" width="10.49" height="18.66" fill="#fffaf8"/>
<rect x="252.67" y="588.9" width="10.49" height="18.66" fill="#f8ab95"/>
<rect x="262.66" y="588.9" width="10.49" height="18.66" fill="#fbc7b4"/>
<rect x="272.65" y="588.9" width="9.99" height="18.66" fill="#ffffff"/>
<rect x="22.9" y="607.06" width="10.49" height="18.66" fill="#d2c2e1"/>
<rect x="32.89" y="607.06" width="10.49" height="18.66" fill="#d2c2e1"/>
<rect x="42.88" y="607.06" width="10.49" height="18.66" fill="#d2c2e1"/>
<rect x="52.87" y="607.06" width="10.49" height="18.66" fill="#d2c2e1"/>
<rect x="62.86" y="607.06" width="10.49" height="18.66" fill="#d2c2e1"/>
<rect x="72.85" y="607.06" width="10.49" height="18.66" fill="#dbcee7"/>
<rect x="82.84" y="607.06" width="10.49" height="18.66" fill="#d2c2e1"/>
<rect x="92.83" y="607.06" width="10.49" height="18.66" fill="#d2c2e1"/>
<rect x="102.82" y="607.06" width="10.49" height="18.66" fill="#d2c2e1"/>
<rect x="112.81" y="607.06" width="10.49" height="18.66" fill="#d2c2e1"/>
<rect x="122.8" y="607.06" width="10.49" height="18.66" fill="#d2c2e1"/>
<rect x="132.79" y="607.06" width="10.49" height="18.66" fill="#d2c2e1"/>
<rect x="142.78" y="607.06" width="10.49" height="18.66" fill="#dbcee7"/>
<rect x="152.77" y="607.06" width="10.49" height="18.66" fill="#fef9f7"/>
<rect x="162.76" y="607.06" width="10.49" height="18.66" fill="#fbf9fc"/>
<rect x="172.75" y="607.06" width="10.49" height="18.66" fill="#f7f3f9"/>
<rect x="182.74" y="607.06" width="10.49" height="18.66" fill="#fbc2ad"/>
<rect x="192.73" y="607.06" width="10.49" height="18.66" fill="#f8ab95"/>
<rect x="202.72" y="607.06" width="10.49" height="18.66" fill="#fcdcd0"/>
<rect x="212.71" y="607.06" width="10.49" height="18.66" fill="#eb3a28"/>
<rect x="222.7" y="607.06" width="10.49" height="18.66" fill="#fef2ed"/>
<rect x="232.69" y="607.06" width="10.49" height="18.66" fill="#ee5d45"/>
<rect x="242.68" y="607.06" width="10.49" height="18.66" fill="#fcdcd0"/>
<rect x="252.67" y="607.06" width="10.49" height="18.66" fill="#fcdcd0"/>
<rect x="262.66" y="607.06" width="10.49" height="18.66" fill="#fde5dc"/>
<rect x="272.65" y="607.06" width="9.99" height="18.66" fill="#fbf9fc"/>
<rect x="22.9" y="625.22" width="10.49" height="18.16" fill="#d8cae5"/>
<rect x="32.89" y="625.22" width="10.49" height="18.16" fill="#d8cae5"/>
<rect x="42.88" y="625.22" width="10.49" height="18.16" fill="#d0c0e0"/>
<rect x="52.87" y="625.22" width="10.49" height="18.16" fill="#cab8dc"/>
<rect x="62.86" y="625.22" width="10.49" height="18.16" fill="#d8cae5"/>
<rect x="72.85" y="625.22" width="10.49" height="18.16" fill="#d8cae5"/>
<rect x="82.84" y="625.22" width="10.49" height="18.16" fill="#d8cae5"/>
<rect x="92.83" y="625.22" width="10.49" height="18.16" fill="#f9f6fa"/>
<rect x="102.82" y="625.22" width="10.49" height="18.16" fill="#faf7fb"/>
<rect x="112.81" y="625.22" width="10.49" height="18.16" fill="#ffffff"/>
<rect x="122.8" y="625.22" width="10.49" height="18.16" fill="#faf7fb"/>
<rect x="132.79" y="625.22" width="10.49" height="18.16" fill="#fdfcfd"/>
<rect x="142.78" y="625.22" width="10.49" height="18.16" fill="#d0c0e0"/>
<rect x="152.77" y="625.22" width="10.49" height="18.16" fill="#f3856c"/>
<rect x="162.76" y="625.22" width="10.49" height="18.16" fill="#ef7158"/>
<rect x="172.75" y="625.22" width="10.49" height="18.16" fill="#f7a38c"/>
<rect x="182.74" y="625.22" width="10.49" height="18.16" fill="#f7a38c"/>
<rect x="192.73" y="625.22" width="10.49" height="18.16" fill="#fbc7b4"/>
<rect x="202.72" y="625.22" width="10.49" height="18.16" fill="#fcd7c9"/>
<rect x="212.71" y="625.22" width="10.49" height="18.16" fill="#fbc7b4"/>
<rect x="222.7" y="625.22" width="10.49" height="18.16" fill="#f17b62"/>
<rect x="232.69" y="625.22" width="10.49" height="18.16" fill="#ccbadd"/>
<rect x="242.68" y="625.22" width="10.49" height="18.16" fill="#d0c0e0"/>
<rect x="252.67" y="625.22" width="10.49" height="18.16" fill="#d2c2e1"/>
<rect x="262.66" y="625.22" width="10.49" height="18.16" fill="#c2afd8"/>
<rect x="272.65" y="625.22" width="9.99" height="18.16" fill="#d0c0e0"/>
<text x="286" y="391.9" font-size="8.9" fill="#222">Genotype</text>
<text x="286" y="402.1" font-size="8.9" fill="#222">state</text>
<text x="286" y="420.18" font-size="8.8" fill="#222">Eomes</text>
<text x="286" y="438.34" font-size="8.8" fill="#222">Cd244</text>
<text x="286" y="456.5" font-size="8.8" fill="#222">Gzmb</text>
<text x="286" y="474.66" font-size="8.8" fill="#222">Casp3</text>
<text x="286" y="492.82" font-size="8.8" fill="#222">Tigit</text>
<text x="286" y="510.98" font-size="8.8" fill="#222">Havcr2</text>
<text x="286" y="529.14" font-size="8.8" fill="#222">Pdcd1</text>
<text x="286" y="547.3" font-size="8.8" fill="#222">Lag3</text>
<text x="286" y="565.46" font-size="8.8" fill="#222">Tox</text>
<text x="286" y="583.62" font-size="8.8" fill="#222">Ctla4</text>
<text x="286" y="601.78" font-size="8.8" fill="#222">Klrg1</text>
<text x="286" y="619.94" font-size="8.8" fill="#222">Gzma</text>
<text x="286" y="638.1" font-size="8.8" fill="#222">Il7r</text>
<path d="M27.89 381.6 V380.8 H37.88 V381.6" stroke="#151515" stroke-width="0.75" fill="none"/>
<path d="M32.89 380.8 V380.6 H47.88 V381.6" stroke="#151515" stroke-width="0.75" fill="none"/>
<path d="M40.38 380.6 V380.4 H57.87 V381.6" stroke="#151515" stroke-width="0.75" fill="none"/>
<path d="M49.12 380.4 V380.2 H67.85 V381.6" stroke="#151515" stroke-width="0.75" fill="none"/>
<path d="M58.49 380.2 V380 H77.84 V381.6" stroke="#151515" stroke-width="0.75" fill="none"/>
<path d="M68.17 380 V379.8 H87.84 V381.6" stroke="#151515" stroke-width="0.75" fill="none"/>
<path d="M78 379.8 V379.6 H97.82 V381.6" stroke="#151515" stroke-width="0.75" fill="none"/>
<path d="M87.91 379.6 V379.4 H107.81 V381.6" stroke="#151515" stroke-width="0.75" fill="none"/>
<path d="M127.79 381.6 V380.6 H137.78 V381.6" stroke="#151515" stroke-width="0.75" fill="none"/>
<path d="M117.81 381.6 V380.1 H132.79 V380.6" stroke="#151515" stroke-width="0.75" fill="none"/>
<path d="M97.86 379.4 V378.8 H125.3 V380.1" stroke="#151515" stroke-width="0.75" fill="none"/>
<path d="M111.58 378.8 V378.3 H147.78 V381.6" stroke="#151515" stroke-width="0.75" fill="none"/>
<path d="M157.77 381.6 V380.5 H167.75 V381.6" stroke="#151515" stroke-width="0.75" fill="none"/>
<path d="M162.76 380.5 V379.9 H177.75 V381.6" stroke="#151515" stroke-width="0.75" fill="none"/>
<path d="M170.25 379.9 V379.3 H187.74 V381.6" stroke="#151515" stroke-width="0.75" fill="none"/>
<path d="M178.99 379.3 V378.8 H197.73 V381.6" stroke="#151515" stroke-width="0.75" fill="none"/>
<path d="M188.36 378.8 V378.2 H207.72 V381.6" stroke="#151515" stroke-width="0.75" fill="none"/>
<path d="M198.04 378.2 V377.3 H217.71 V381.6" stroke="#151515" stroke-width="0.75" fill="none"/>
<path d="M207.87 377.3 V376.4 H227.7 V381.6" stroke="#151515" stroke-width="0.75" fill="none"/>
<path d="M129.68 378.3 V368.7 H217.78 V376.4" stroke="#151515" stroke-width="0.75" fill="none"/>
<path d="M237.69 381.6 V378.5 H247.68 V381.6" stroke="#151515" stroke-width="0.75" fill="none"/>
<path d="M257.67 381.6 V377.5 H267.65 V381.6" stroke="#151515" stroke-width="0.75" fill="none"/>
<path d="M242.68 378.5 V375.8 H262.66 V377.5" stroke="#151515" stroke-width="0.75" fill="none"/>
<path d="M252.67 375.8 V373 H277.64 V381.6" stroke="#151515" stroke-width="0.75" fill="none"/>
<path d="M173.73 368.7 V359.2 H265.16 V373" stroke="#151515" stroke-width="0.75" fill="none"/>
<path d="M22.9 416.38 H17.4 V434.54 H22.9" stroke="#151515" stroke-width="0.75" fill="none"/>
<path d="M17.4 425.46 H15.1 V452.7 H22.9" stroke="#151515" stroke-width="0.75" fill="none"/>
<path d="M22.9 470.86 H18.9 V489.02 H22.9" stroke="#151515" stroke-width="0.75" fill="none"/>
<path d="M22.9 507.18 H19.4 V525.34 H22.9" stroke="#151515" stroke-width="0.75" fill="none"/>
<path d="M18.9 479.94 H17.5 V516.26 H19.4" stroke="#151515" stroke-width="0.75" fill="none"/>
<path d="M22.9 543.5 H17.5 V561.66 H22.9" stroke="#151515" stroke-width="0.75" fill="none"/>
<path d="M17.5 498.1 H14.7 V552.58 H17.5" stroke="#151515" stroke-width="0.75" fill="none"/>
<path d="M14.7 525.34 H12.3 V579.82 H22.9" stroke="#151515" stroke-width="0.75" fill="none"/>
<path d="M15.1 439.08 H10.4 V552.58 H12.3" stroke="#151515" stroke-width="0.75" fill="none"/>
<path d="M22.9 597.98 H16.4 V616.14 H22.9" stroke="#151515" stroke-width="0.75" fill="none"/>
<path d="M16.4 607.06 H11 V634.3 H22.9" stroke="#151515" stroke-width="0.75" fill="none"/>
<path d="M10.4 495.83 H1 V620.68 H11" stroke="#151515" stroke-width="0.75" fill="none"/>
<text x="30.8" y="655.9" font-size="9" fill="#222">Genotype</text>
<rect x="31.8" y="660.3" width="7.6" height="6.3" fill="#00A087"/>
<text x="43.7" y="665.9" font-size="7" fill="#333">RISP WT</text>
<rect x="31.8" y="671.2" width="7.6" height="6.3" fill="#E64B35"/>
<text x="43.7" y="676.8" font-size="7" fill="#333">RISP KO</text>
<rect x="31.8" y="682.1" width="7.6" height="6.3" fill="#4DBBD5"/>
<text x="43.7" y="687.7" font-size="7" fill="#333">RISP KO + AOX</text>
<rect x="109.8" y="660.3" width="7.4" height="6.3" fill="#8491B4"/>
<text x="120.6" y="666" font-size="7.5" fill="#333">Naive</text>
<rect x="109.8" y="671.2" width="7.4" height="6.3" fill="#3C5488"/>
<text x="120.6" y="676.9" font-size="7.5" fill="#333">Memory</text>
<text x="200.2" y="655.6" font-size="9" text-anchor="middle" fill="#222"><tspan font-style="italic">z</tspan>-normalized expression</text>
<defs><linearGradient id="cb" x1="0" x2="1" y1="0" y2="0"><stop offset="0.04" stop-color="#3b4ca6"/><stop offset="0.19" stop-color="#6d5aab"/><stop offset="0.34" stop-color="#bca8d4"/><stop offset="0.5" stop-color="#ffffff"/><stop offset="0.56" stop-color="#fcdcd0"/><stop offset="0.63" stop-color="#fbc2ad"/><stop offset="0.68" stop-color="#f8ab95"/><stop offset="0.74" stop-color="#f48b72"/><stop offset="0.82" stop-color="#ee6b52"/><stop offset="0.88" stop-color="#ee4e38"/><stop offset="0.92" stop-color="#eb3a28"/><stop offset="0.95" stop-color="#e82020"/></linearGradient></defs>
<rect x="161.85" y="658.7" width="77.21" height="9.1" fill="url(#cb)"/>
<line x1="164.79" y1="658.7" x2="164.79" y2="660.2" stroke="#fff" stroke-width="0.6"/>
<line x1="164.79" y1="666.3" x2="164.79" y2="667.8" stroke="#fff" stroke-width="0.6"/>
<text x="163.89" y="677.6" font-size="7" text-anchor="middle" fill="#333">−3</text>
<line x1="176.56" y1="658.7" x2="176.56" y2="660.2" stroke="#fff" stroke-width="0.6"/>
<line x1="176.56" y1="666.3" x2="176.56" y2="667.8" stroke="#fff" stroke-width="0.6"/>
<text x="175.66" y="677.6" font-size="7" text-anchor="middle" fill="#333">−2</text>
<line x1="188.33" y1="658.7" x2="188.33" y2="660.2" stroke="#fff" stroke-width="0.6"/>
<line x1="188.33" y1="666.3" x2="188.33" y2="667.8" stroke="#fff" stroke-width="0.6"/>
<text x="187.43" y="677.6" font-size="7" text-anchor="middle" fill="#333">−1</text>
<line x1="200.1" y1="658.7" x2="200.1" y2="660.2" stroke="#fff" stroke-width="0.6"/>
<line x1="200.1" y1="666.3" x2="200.1" y2="667.8" stroke="#fff" stroke-width="0.6"/>
<text x="200.1" y="677.6" font-size="7" text-anchor="middle" fill="#333">0</text>
<line x1="211.87" y1="658.7" x2="211.87" y2="660.2" stroke="#fff" stroke-width="0.6"/>
<line x1="211.87" y1="666.3" x2="211.87" y2="667.8" stroke="#fff" stroke-width="0.6"/>
<text x="211.87" y="677.6" font-size="7" text-anchor="middle" fill="#333">1</text>
<line x1="223.64" y1="658.7" x2="223.64" y2="660.2" stroke="#fff" stroke-width="0.6"/>
<line x1="223.64" y1="666.3" x2="223.64" y2="667.8" stroke="#fff" stroke-width="0.6"/>
<text x="223.64" y="677.6" font-size="7" text-anchor="middle" fill="#333">2</text>
<line x1="235.41" y1="658.7" x2="235.41" y2="660.2" stroke="#fff" stroke-width="0.6"/>
<line x1="235.41" y1="666.3" x2="235.41" y2="667.8" stroke="#fff" stroke-width="0.6"/>
<text x="235.41" y="677.6" font-size="7" text-anchor="middle" fill="#333">3</text>
<text x="329" y="382.6" font-size="12.5" font-weight="bold" fill="#000" stroke="#000" stroke-width="0.35">h</text>
<text x="427.6" y="394.6" font-size="8.9" text-anchor="middle" fill="#222">Exhaustion signature ref. 37</text>
<rect x="356.5" y="400.3" width="141.8" height="98.3" fill="none" stroke="#8a8a8a" stroke-width="0.9"/>
<line x1="353.1" y1="404.2" x2="356.5" y2="404.2" stroke="#666" stroke-width="0.7"/>
<text x="351.1" y="406.3" font-size="6" text-anchor="end" fill="#333">0.8</text>
<line x1="353.1" y1="425.45" x2="356.5" y2="425.45" stroke="#666" stroke-width="0.7"/>
<text x="351.1" y="427.55" font-size="6" text-anchor="end" fill="#333">0.6</text>
<line x1="353.1" y1="446.7" x2="356.5" y2="446.7" stroke="#666" stroke-width="0.7"/>
<text x="351.1" y="448.8" font-size="6" text-anchor="end" fill="#333">0.4</text>
<line x1="353.1" y1="467.95" x2="356.5" y2="467.95" stroke="#666" stroke-width="0.7"/>
<text x="351.1" y="470.05" font-size="6" text-anchor="end" fill="#333">0.2</text>
<line x1="353.1" y1="489.2" x2="356.5" y2="489.2" stroke="#666" stroke-width="0.7"/>
<text x="351.1" y="491.3" font-size="6" text-anchor="end" fill="#333">0</text>
<line x1="363.5" y1="498.6" x2="363.5" y2="502.2" stroke="#666" stroke-width="0.7"/>
<text x="363.5" y="510" font-size="6" text-anchor="middle" fill="#333">0</text>
<line x1="412.4" y1="498.6" x2="412.4" y2="502.2" stroke="#666" stroke-width="0.7"/>
<text x="412.4" y="510" font-size="6" text-anchor="middle" fill="#333">10,000</text>
<line x1="461.3" y1="498.6" x2="461.3" y2="502.2" stroke="#666" stroke-width="0.7"/>
<text x="461.3" y="510" font-size="6" text-anchor="middle" fill="#333">20,000</text>
<text x="427.7" y="522.6" font-size="7.2" text-anchor="middle" fill="#222">Gene rank</text>
<text x="335.4" y="449.7" font-size="7.2" text-anchor="middle" fill="#1a1a1a" transform="rotate(-90 335.4 449.7)">Enrichment score (KO/WT)</text>
<rect x="363" y="483.8" width="6.2" height="10.9" fill="#050505"/>
<line x1="369.32" y1="483.8" x2="369.32" y2="494.7" stroke="#454545" stroke-width="0.5"/>
<line x1="369.87" y1="483.8" x2="369.87" y2="494.7" stroke="#4d4d4d" stroke-width="0.5"/>
<line x1="370.65" y1="483.8" x2="370.65" y2="494.7" stroke="#4a4a4a" stroke-width="0.5"/>
<line x1="371.07" y1="483.8" x2="371.07" y2="494.7" stroke="#010101" stroke-width="0.5"/>
<line x1="372.09" y1="483.8" x2="372.09" y2="494.7" stroke="#3c3c3c" stroke-width="0.5"/>
<line x1="372.38" y1="483.8" x2="372.38" y2="494.7" stroke="#1d1d1d" stroke-width="0.5"/>
<line x1="372.96" y1="483.8" x2="372.96" y2="494.7" stroke="#3c3c3c" stroke-width="0.5"/>
<line x1="373.74" y1="483.8" x2="373.74" y2="494.7" stroke="#464646" stroke-width="0.5"/>
<line x1="374.32" y1="483.8" x2="374.32" y2="494.7" stroke="#131313" stroke-width="0.5"/>
<line x1="376.11" y1="483.8" x2="376.11" y2="494.7" stroke="#131313" stroke-width="0.5"/>
<line x1="376.99" y1="483.8" x2="376.99" y2="494.7" stroke="#424242" stroke-width="0.5"/>
<line x1="377.35" y1="483.8" x2="377.35" y2="494.7" stroke="#010101" stroke-width="0.5"/>
<line x1="378.06" y1="483.8" x2="378.06" y2="494.7" stroke="#080808" stroke-width="0.5"/>
<line x1="378.41" y1="483.8" x2="378.41" y2="494.7" stroke="#4b4b4b" stroke-width="0.5"/>
<line x1="378.94" y1="483.8" x2="378.94" y2="494.7" stroke="#030303" stroke-width="0.5"/>
<line x1="379.88" y1="483.8" x2="379.88" y2="494.7" stroke="#222222" stroke-width="0.5"/>
<line x1="380.3" y1="483.8" x2="380.3" y2="494.7" stroke="#313131" stroke-width="0.5"/>
<line x1="381" y1="483.8" x2="381" y2="494.7" stroke="#363636" stroke-width="0.5"/>
<line x1="381.43" y1="483.8" x2="381.43" y2="494.7" stroke="#494949" stroke-width="0.5"/>
<line x1="382.04" y1="483.8" x2="382.04" y2="494.7" stroke="#111111" stroke-width="0.5"/>
<line x1="382.83" y1="483.8" x2="382.83" y2="494.7" stroke="#0c0c0c" stroke-width="0.5"/>
<line x1="383.02" y1="483.8" x2="383.02" y2="494.7" stroke="#7b7b7b" stroke-width="0.5"/>
<line x1="383.81" y1="483.8" x2="383.81" y2="494.7" stroke="#929292" stroke-width="0.5"/>
<line x1="384.61" y1="483.8" x2="384.61" y2="494.7" stroke="#8c8c8c" stroke-width="0.5"/>
<line x1="385.53" y1="483.8" x2="385.53" y2="494.7" stroke="#717171" stroke-width="0.5"/>
<line x1="386.03" y1="483.8" x2="386.03" y2="494.7" stroke="#6d6d6d" stroke-width="0.5"/>
<line x1="386.75" y1="483.8" x2="386.75" y2="494.7" stroke="#808080" stroke-width="0.5"/>
<line x1="387.45" y1="483.8" x2="387.45" y2="494.7" stroke="#868686" stroke-width="0.5"/>
<line x1="387.94" y1="483.8" x2="387.94" y2="494.7" stroke="#676767" stroke-width="0.5"/>
<line x1="388.88" y1="483.8" x2="388.88" y2="494.7" stroke="#3f3f3f" stroke-width="0.5"/>
<line x1="389.66" y1="483.8" x2="389.66" y2="494.7" stroke="#898989" stroke-width="0.5"/>
<line x1="390.24" y1="483.8" x2="390.24" y2="494.7" stroke="#505050" stroke-width="0.5"/>
<line x1="390.95" y1="483.8" x2="390.95" y2="494.7" stroke="#656565" stroke-width="0.5"/>
<line x1="391.78" y1="483.8" x2="391.78" y2="494.7" stroke="#858585" stroke-width="0.5"/>
<line x1="392.25" y1="483.8" x2="392.25" y2="494.7" stroke="#8f8f8f" stroke-width="0.5"/>
<line x1="392.74" y1="483.8" x2="392.74" y2="494.7" stroke="#858585" stroke-width="0.5"/>
<line x1="393.46" y1="483.8" x2="393.46" y2="494.7" stroke="#4b4b4b" stroke-width="0.5"/>
<line x1="395.5" y1="483.8" x2="395.5" y2="494.7" stroke="#777" stroke-width="0.55"/>
<line x1="397.04" y1="483.8" x2="397.04" y2="494.7" stroke="#c8c8c8" stroke-width="0.5"/>
<line x1="398.54" y1="483.8" x2="398.54" y2="494.7" stroke="#a5a5a5" stroke-width="0.5"/>
<line x1="398.95" y1="483.8" x2="398.95" y2="494.7" stroke="#a4a4a4" stroke-width="0.5"/>
<line x1="399.85" y1="483.8" x2="399.85" y2="494.7" stroke="#a9a9a9" stroke-width="0.5"/>
<line x1="400.44" y1="483.8" x2="400.44" y2="494.7" stroke="#bbbbbb" stroke-width="0.5"/>
<line x1="401.81" y1="483.8" x2="401.81" y2="494.7" stroke="#a7a7a7" stroke-width="0.5"/>
<line x1="402.17" y1="483.8" x2="402.17" y2="494.7" stroke="#c7c7c7" stroke-width="0.5"/>
<line x1="405.93" y1="483.8" x2="405.93" y2="494.7" stroke="#6c6c6c" stroke-width="0.5"/>
<line x1="406.6" y1="483.8" x2="406.6" y2="494.7" stroke="#666666" stroke-width="0.5"/>
<line x1="407.21" y1="483.8" x2="407.21" y2="494.7" stroke="#5f5f5f" stroke-width="0.5"/>
<line x1="407.88" y1="483.8" x2="407.88" y2="494.7" stroke="#404040" stroke-width="0.5"/>
<line x1="408.47" y1="483.8" x2="408.47" y2="494.7" stroke="#454545" stroke-width="0.5"/>
<line x1="411.2" y1="483.8" x2="411.2" y2="494.7" stroke="#555" stroke-width="0.55"/>
<line x1="414" y1="483.8" x2="414" y2="494.7" stroke="#999" stroke-width="0.55"/>
<line x1="417" y1="483.8" x2="417" y2="494.7" stroke="#999" stroke-width="0.55"/>
<line x1="419" y1="483.8" x2="419" y2="494.7" stroke="#aaa" stroke-width="0.55"/>
<line x1="423.5" y1="483.8" x2="423.5" y2="494.7" stroke="#888" stroke-width="0.55"/>
<line x1="426.3" y1="483.8" x2="426.3" y2="494.7" stroke="#666" stroke-width="0.55"/>
<line x1="437.09" y1="483.8" x2="437.09" y2="494.7" stroke="#b8b8b8" stroke-width="0.5"/>
<line x1="438.03" y1="483.8" x2="438.03" y2="494.7" stroke="#a2a2a2" stroke-width="0.5"/>
<line x1="439.78" y1="483.8" x2="439.78" y2="494.7" stroke="#a8a8a8" stroke-width="0.5"/>
<line x1="440.49" y1="483.8" x2="440.49" y2="494.7" stroke="#9f9f9f" stroke-width="0.5"/>
<line x1="441.55" y1="483.8" x2="441.55" y2="494.7" stroke="#ababab" stroke-width="0.5"/>
<line x1="442.25" y1="483.8" x2="442.25" y2="494.7" stroke="#9e9e9e" stroke-width="0.5"/>
<line x1="447.72" y1="483.8" x2="447.72" y2="494.7" stroke="#8a8a8a" stroke-width="0.5"/>
<line x1="448.3" y1="483.8" x2="448.3" y2="494.7" stroke="#9c9c9c" stroke-width="0.5"/>
<line x1="449.31" y1="483.8" x2="449.31" y2="494.7" stroke="#676767" stroke-width="0.5"/>
<line x1="450.5" y1="483.8" x2="450.5" y2="494.7" stroke="#9a9a9a" stroke-width="0.5"/>
<line x1="451.22" y1="483.8" x2="451.22" y2="494.7" stroke="#787878" stroke-width="0.5"/>
<line x1="452.75" y1="483.8" x2="452.75" y2="494.7" stroke="#919191" stroke-width="0.5"/>
<line x1="455.1" y1="483.8" x2="455.1" y2="494.7" stroke="#444" stroke-width="0.55"/>
<line x1="457.43" y1="483.8" x2="457.43" y2="494.7" stroke="#c1c1c1" stroke-width="0.5"/>
<line x1="457.79" y1="483.8" x2="457.79" y2="494.7" stroke="#b5b5b5" stroke-width="0.5"/>
<line x1="458.41" y1="483.8" x2="458.41" y2="494.7" stroke="#bababa" stroke-width="0.5"/>
<line x1="459.83" y1="483.8" x2="459.83" y2="494.7" stroke="#b4b4b4" stroke-width="0.5"/>
<line x1="462.21" y1="483.8" x2="462.21" y2="494.7" stroke="#9f9f9f" stroke-width="0.5"/>
<line x1="463.57" y1="483.8" x2="463.57" y2="494.7" stroke="#808080" stroke-width="0.5"/>
<line x1="464.11" y1="483.8" x2="464.11" y2="494.7" stroke="#a0a0a0" stroke-width="0.5"/>
<line x1="466.23" y1="483.8" x2="466.23" y2="494.7" stroke="#7d7d7d" stroke-width="0.5"/>
<line x1="467.32" y1="483.8" x2="467.32" y2="494.7" stroke="#7d7d7d" stroke-width="0.5"/>
<line x1="468.13" y1="483.8" x2="468.13" y2="494.7" stroke="#737373" stroke-width="0.5"/>
<line x1="469.08" y1="483.8" x2="469.08" y2="494.7" stroke="#525252" stroke-width="0.5"/>
<line x1="469.83" y1="483.8" x2="469.83" y2="494.7" stroke="#525252" stroke-width="0.5"/>
<line x1="470.95" y1="483.8" x2="470.95" y2="494.7" stroke="#707070" stroke-width="0.5"/>
<line x1="471.57" y1="483.8" x2="471.57" y2="494.7" stroke="#767676" stroke-width="0.5"/>
<line x1="473.59" y1="483.8" x2="473.59" y2="494.7" stroke="#b4b4b4" stroke-width="0.5"/>
<line x1="474.14" y1="483.8" x2="474.14" y2="494.7" stroke="#ababab" stroke-width="0.5"/>
<line x1="475.06" y1="483.8" x2="475.06" y2="494.7" stroke="#b7b7b7" stroke-width="0.5"/>
<line x1="476.23" y1="483.8" x2="476.23" y2="494.7" stroke="#b0b0b0" stroke-width="0.5"/>
<line x1="477.52" y1="483.8" x2="477.52" y2="494.7" stroke="#9a9a9a" stroke-width="0.5"/>
<line x1="478.3" y1="483.8" x2="478.3" y2="494.7" stroke="#838383" stroke-width="0.5"/>
<line x1="479.87" y1="483.8" x2="479.87" y2="494.7" stroke="#adadad" stroke-width="0.5"/>
<line x1="480.62" y1="483.8" x2="480.62" y2="494.7" stroke="#959595" stroke-width="0.5"/>
<line x1="482.27" y1="483.8" x2="482.27" y2="494.7" stroke="#6f6f6f" stroke-width="0.5"/>
<line x1="483.1" y1="483.8" x2="483.1" y2="494.7" stroke="#555555" stroke-width="0.5"/>
<line x1="483.51" y1="483.8" x2="483.51" y2="494.7" stroke="#717171" stroke-width="0.5"/>
<line x1="485.39" y1="483.8" x2="485.39" y2="494.7" stroke="#929292" stroke-width="0.5"/>
<line x1="485.79" y1="483.8" x2="485.79" y2="494.7" stroke="#a0a0a0" stroke-width="0.5"/>
<line x1="489.53" y1="483.8" x2="489.53" y2="494.7" stroke="#b7b7b7" stroke-width="0.5"/>
<line x1="490.17" y1="483.8" x2="490.17" y2="494.7" stroke="#a8a8a8" stroke-width="0.5"/>
<line x1="490.85" y1="483.8" x2="490.85" y2="494.7" stroke="#969696" stroke-width="0.5"/>
<line x1="491.14" y1="483.8" x2="491.14" y2="494.7" stroke="#bbbbbb" stroke-width="0.5"/>
<line x1="356.5" y1="489.2" x2="498.3" y2="489.2" stroke="#444" stroke-width="0.8"/>
<line x1="356.5" y1="489.2" x2="498.3" y2="489.2" stroke="#c0392b" stroke-width="0.85" stroke-dasharray="2.7 2.3"/>
<line x1="357.5" y1="404.8" x2="497.3" y2="404.8" stroke="#ff6868" stroke-width="1.35" stroke-dasharray="2.6 2.65"/>
<path d="M363.5 489.2 L364.4 450 L365.9 425.5 L368.1 413.8 L371.7 405.8 L373.5 404.9 L376.8 406.2 L380 405.3 L383.4 405 L386 406 L389.2 408 L400.9 417.4 L412.6 426.9 L425 436.4 L452.5 459.5 L491.7 489.2" stroke="#3ded3d" stroke-width="0.8" fill="none" stroke-linejoin="round"/>
<text x="473" y="434.2" font-size="6.9" text-anchor="middle" fill="#222">NES = 2.81</text>
<text x="473" y="442.8" font-size="6.9" text-anchor="middle" fill="#222"><tspan font-style="italic">q</tspan> = 5.7 × 10<tspan font-size="4.8" dy="-2.8">−49</tspan></text>
<text x="509.3" y="382.6" font-size="12.5" font-weight="bold" fill="#000" stroke="#000" stroke-width="0.35">i</text>
<text x="608.5" y="394.6" font-size="8.9" text-anchor="middle" fill="#222">Exhaustion signature ref. 37</text>
<line x1="542.9" y1="399.7" x2="542.9" y2="499.6" stroke="#f0f0f0" stroke-width="0.5"/>
<line x1="568.05" y1="399.7" x2="568.05" y2="499.6" stroke="#f0f0f0" stroke-width="0.5"/>
<line x1="593.2" y1="399.7" x2="593.2" y2="499.6" stroke="#f0f0f0" stroke-width="0.5"/>
<line x1="618.35" y1="399.7" x2="618.35" y2="499.6" stroke="#f0f0f0" stroke-width="0.5"/>
<line x1="643.5" y1="399.7" x2="643.5" y2="499.6" stroke="#f0f0f0" stroke-width="0.5"/>
<line x1="668.65" y1="399.7" x2="668.65" y2="499.6" stroke="#f0f0f0" stroke-width="0.5"/>
<line x1="537.2" y1="479.2" x2="680.8" y2="479.2" stroke="#f0f0f0" stroke-width="0.5"/>
<line x1="537.2" y1="445.2" x2="680.8" y2="445.2" stroke="#f0f0f0" stroke-width="0.5"/>
<line x1="537.2" y1="411.2" x2="680.8" y2="411.2" stroke="#f0f0f0" stroke-width="0.5"/>
<line x1="537.2" y1="496.2" x2="680.8" y2="496.2" stroke="#f0f0f0" stroke-width="0.5"/>
<line x1="537.2" y1="428.2" x2="680.8" y2="428.2" stroke="#f0f0f0" stroke-width="0.5"/>
<rect x="537.2" y="399.7" width="143.6" height="99.9" fill="none" stroke="#b5b5b5" stroke-width="0.9"/>
<line x1="533.8" y1="428.2" x2="537.2" y2="428.2" stroke="#666" stroke-width="0.7"/>
<text x="531.8" y="430.3" font-size="6" text-anchor="end" fill="#333">0.2</text>
<line x1="533.8" y1="462.2" x2="537.2" y2="462.2" stroke="#666" stroke-width="0.7"/>
<text x="531.8" y="464.3" font-size="6" text-anchor="end" fill="#333">0</text>
<line x1="533.8" y1="496.2" x2="537.2" y2="496.2" stroke="#666" stroke-width="0.7"/>
<text x="531.8" y="498.3" font-size="6" text-anchor="end" fill="#333">−0.2</text>
<line x1="542.9" y1="499.6" x2="542.9" y2="503.2" stroke="#666" stroke-width="0.7"/>
<text x="542.9" y="510" font-size="6" text-anchor="middle" fill="#333">0</text>
<line x1="593.2" y1="499.6" x2="593.2" y2="503.2" stroke="#666" stroke-width="0.7"/>
<text x="593.2" y="510" font-size="6" text-anchor="middle" fill="#333">10,000</text>
<line x1="643.5" y1="499.6" x2="643.5" y2="503.2" stroke="#666" stroke-width="0.7"/>
<text x="643.5" y="510" font-size="6" text-anchor="middle" fill="#333">20,000</text>
<text x="609.9" y="522.8" font-size="7.2" text-anchor="middle" fill="#222">Gene rank</text>
<text x="515" y="453.9" font-size="7.2" text-anchor="middle" fill="#1a1a1a" transform="rotate(-90 515 453.9)">Enrichment score (KO + AOX/WT)</text>
<line x1="544.05" y1="456.8" x2="544.05" y2="467.7" stroke="#5e5e5e" stroke-width="0.5"/>
<line x1="544.44" y1="456.8" x2="544.44" y2="467.7" stroke="#585858" stroke-width="0.5"/>
<line x1="545.18" y1="456.8" x2="545.18" y2="467.7" stroke="#5e5e5e" stroke-width="0.5"/>
<line x1="545.56" y1="456.8" x2="545.56" y2="467.7" stroke="#434343" stroke-width="0.5"/>
<line x1="545.81" y1="456.8" x2="545.81" y2="467.7" stroke="#3b3b3b" stroke-width="0.5"/>
<line x1="546.61" y1="456.8" x2="546.61" y2="467.7" stroke="#1f1f1f" stroke-width="0.5"/>
<line x1="547.06" y1="456.8" x2="547.06" y2="467.7" stroke="#141414" stroke-width="0.5"/>
<line x1="547.35" y1="456.8" x2="547.35" y2="467.7" stroke="#3c3c3c" stroke-width="0.5"/>
<line x1="548.15" y1="456.8" x2="548.15" y2="467.7" stroke="#303030" stroke-width="0.5"/>
<line x1="548.52" y1="456.8" x2="548.52" y2="467.7" stroke="#494949" stroke-width="0.5"/>
<line x1="548.9" y1="456.8" x2="548.9" y2="467.7" stroke="#5d5d5d" stroke-width="0.5"/>
<line x1="549.39" y1="456.8" x2="549.39" y2="467.7" stroke="#232323" stroke-width="0.5"/>
<line x1="549.87" y1="456.8" x2="549.87" y2="467.7" stroke="#626262" stroke-width="0.5"/>
<line x1="550.46" y1="456.8" x2="550.46" y2="467.7" stroke="#616161" stroke-width="0.5"/>
<line x1="551.12" y1="456.8" x2="551.12" y2="467.7" stroke="#111111" stroke-width="0.5"/>
<line x1="551.55" y1="456.8" x2="551.55" y2="467.7" stroke="#383838" stroke-width="0.5"/>
<line x1="551.85" y1="456.8" x2="551.85" y2="467.7" stroke="#000000" stroke-width="0.5"/>
<line x1="552.69" y1="456.8" x2="552.69" y2="467.7" stroke="#000000" stroke-width="0.5"/>
<line x1="552.88" y1="456.8" x2="552.88" y2="467.7" stroke="#1b1b1b" stroke-width="0.5"/>
<line x1="553.68" y1="456.8" x2="553.68" y2="467.7" stroke="#151515" stroke-width="0.5"/>
<line x1="554.15" y1="456.8" x2="554.15" y2="467.7" stroke="#252525" stroke-width="0.5"/>
<line x1="554.43" y1="456.8" x2="554.43" y2="467.7" stroke="#191919" stroke-width="0.5"/>
<line x1="555.02" y1="456.8" x2="555.02" y2="467.7" stroke="#565656" stroke-width="0.5"/>
<line x1="555.55" y1="456.8" x2="555.55" y2="467.7" stroke="#171717" stroke-width="0.5"/>
<line x1="556.18" y1="456.8" x2="556.18" y2="467.7" stroke="#585858" stroke-width="0.5"/>
<line x1="556.38" y1="456.8" x2="556.38" y2="467.7" stroke="#313131" stroke-width="0.5"/>
<line x1="556.92" y1="456.8" x2="556.92" y2="467.7" stroke="#2e2e2e" stroke-width="0.5"/>
<line x1="557.47" y1="456.8" x2="557.47" y2="467.7" stroke="#121212" stroke-width="0.5"/>
<line x1="557.91" y1="456.8" x2="557.91" y2="467.7" stroke="#2a2a2a" stroke-width="0.5"/>
<line x1="558.42" y1="456.8" x2="558.42" y2="467.7" stroke="#4d4d4d" stroke-width="0.5"/>
<line x1="559.03" y1="456.8" x2="559.03" y2="467.7" stroke="#4c4c4c" stroke-width="0.5"/>
<line x1="559.57" y1="456.8" x2="559.57" y2="467.7" stroke="#2b2b2b" stroke-width="0.5"/>
<line x1="559.83" y1="456.8" x2="559.83" y2="467.7" stroke="#2d2d2d" stroke-width="0.5"/>
<line x1="560.63" y1="456.8" x2="560.63" y2="467.7" stroke="#3d3d3d" stroke-width="0.5"/>
<line x1="561.08" y1="456.8" x2="561.08" y2="467.7" stroke="#171717" stroke-width="0.5"/>
<line x1="561.49" y1="456.8" x2="561.49" y2="467.7" stroke="#5a5a5a" stroke-width="0.5"/>
<line x1="561.87" y1="456.8" x2="561.87" y2="467.7" stroke="#202020" stroke-width="0.5"/>
<line x1="562.69" y1="456.8" x2="562.69" y2="467.7" stroke="#020202" stroke-width="0.5"/>
<line x1="563.18" y1="456.8" x2="563.18" y2="467.7" stroke="#2d2d2d" stroke-width="0.5"/>
<line x1="563.64" y1="456.8" x2="563.64" y2="467.7" stroke="#020202" stroke-width="0.5"/>
<line x1="564.02" y1="456.8" x2="564.02" y2="467.7" stroke="#353535" stroke-width="0.5"/>
<line x1="564.45" y1="456.8" x2="564.45" y2="467.7" stroke="#4a4a4a" stroke-width="0.5"/>
<line x1="565.14" y1="456.8" x2="565.14" y2="467.7" stroke="#393939" stroke-width="0.5"/>
<line x1="565.32" y1="456.8" x2="565.32" y2="467.7" stroke="#171717" stroke-width="0.5"/>
<line x1="566.05" y1="456.8" x2="566.05" y2="467.7" stroke="#191919" stroke-width="0.5"/>
<line x1="566.35" y1="456.8" x2="566.35" y2="467.7" stroke="#1f1f1f" stroke-width="0.5"/>
<line x1="548" y1="456.8" x2="548" y2="467.7" stroke="#111" stroke-width="0.55"/>
<line x1="552" y1="456.8" x2="552" y2="467.7" stroke="#111" stroke-width="0.55"/>
<line x1="558" y1="456.8" x2="558" y2="467.7" stroke="#111" stroke-width="0.55"/>
<line x1="564.5" y1="456.8" x2="564.5" y2="467.7" stroke="#000" stroke-width="0.55"/>
<line x1="565.5" y1="456.8" x2="565.5" y2="467.7" stroke="#000" stroke-width="0.55"/>
<line x1="568.31" y1="456.8" x2="568.31" y2="467.7" stroke="#8c8c8c" stroke-width="0.5"/>
<line x1="568.74" y1="456.8" x2="568.74" y2="467.7" stroke="#555555" stroke-width="0.5"/>
<line x1="569.37" y1="456.8" x2="569.37" y2="467.7" stroke="#575757" stroke-width="0.5"/>
<line x1="570" y1="456.8" x2="570" y2="467.7" stroke="#4f4f4f" stroke-width="0.5"/>
<line x1="570.61" y1="456.8" x2="570.61" y2="467.7" stroke="#737373" stroke-width="0.5"/>
<line x1="571.67" y1="456.8" x2="571.67" y2="467.7" stroke="#434343" stroke-width="0.5"/>
<line x1="572.4" y1="456.8" x2="572.4" y2="467.7" stroke="#181818" stroke-width="0.5"/>
<line x1="572.85" y1="456.8" x2="572.85" y2="467.7" stroke="#1f1f1f" stroke-width="0.5"/>
<line x1="573.41" y1="456.8" x2="573.41" y2="467.7" stroke="#555555" stroke-width="0.5"/>
<line x1="574.32" y1="456.8" x2="574.32" y2="467.7" stroke="#898989" stroke-width="0.5"/>
<line x1="574.76" y1="456.8" x2="574.76" y2="467.7" stroke="#373737" stroke-width="0.5"/>
<line x1="575.87" y1="456.8" x2="575.87" y2="467.7" stroke="#595959" stroke-width="0.5"/>
<line x1="576.1" y1="456.8" x2="576.1" y2="467.7" stroke="#6b6b6b" stroke-width="0.5"/>
<line x1="576.91" y1="456.8" x2="576.91" y2="467.7" stroke="#2a2a2a" stroke-width="0.5"/>
<line x1="577.86" y1="456.8" x2="577.86" y2="467.7" stroke="#646464" stroke-width="0.5"/>
<line x1="578.19" y1="456.8" x2="578.19" y2="467.7" stroke="#6c6c6c" stroke-width="0.5"/>
<line x1="570" y1="456.8" x2="570" y2="467.7" stroke="#222" stroke-width="0.55"/>
<line x1="576.5" y1="456.8" x2="576.5" y2="467.7" stroke="#222" stroke-width="0.55"/>
<line x1="581.21" y1="456.8" x2="581.21" y2="467.7" stroke="#8d8d8d" stroke-width="0.5"/>
<line x1="581.97" y1="456.8" x2="581.97" y2="467.7" stroke="#565656" stroke-width="0.5"/>
<line x1="582.77" y1="456.8" x2="582.77" y2="467.7" stroke="#9c9c9c" stroke-width="0.5"/>
<line x1="583.94" y1="456.8" x2="583.94" y2="467.7" stroke="#838383" stroke-width="0.5"/>
<line x1="584.45" y1="456.8" x2="584.45" y2="467.7" stroke="#9c9c9c" stroke-width="0.5"/>
<line x1="585.52" y1="456.8" x2="585.52" y2="467.7" stroke="#707070" stroke-width="0.5"/>
<line x1="586.46" y1="456.8" x2="586.46" y2="467.7" stroke="#858585" stroke-width="0.5"/>
<line x1="581.5" y1="456.8" x2="581.5" y2="467.7" stroke="#222" stroke-width="0.55"/>
<line x1="591.51" y1="456.8" x2="591.51" y2="467.7" stroke="#8d8d8d" stroke-width="0.5"/>
<line x1="592.37" y1="456.8" x2="592.37" y2="467.7" stroke="#7b7b7b" stroke-width="0.5"/>
<line x1="593.54" y1="456.8" x2="593.54" y2="467.7" stroke="#565656" stroke-width="0.5"/>
<line x1="594.33" y1="456.8" x2="594.33" y2="467.7" stroke="#999999" stroke-width="0.5"/>
<line x1="595.6" y1="456.8" x2="595.6" y2="467.7" stroke="#4c4c4c" stroke-width="0.5"/>
<line x1="596.59" y1="456.8" x2="596.59" y2="467.7" stroke="#a0a0a0" stroke-width="0.5"/>
<line x1="597.37" y1="456.8" x2="597.37" y2="467.7" stroke="#515151" stroke-width="0.5"/>
<line x1="593" y1="456.8" x2="593" y2="467.7" stroke="#333" stroke-width="0.55"/>
<line x1="596" y1="456.8" x2="596" y2="467.7" stroke="#333" stroke-width="0.55"/>
<line x1="600.7" y1="456.8" x2="600.7" y2="467.7" stroke="#bbb" stroke-width="0.55"/>
<line x1="605" y1="456.8" x2="605" y2="467.7" stroke="#d5d5d5" stroke-width="0.55"/>
<line x1="616.6" y1="456.8" x2="616.6" y2="467.7" stroke="#333" stroke-width="0.55"/>
<line x1="618.2" y1="456.8" x2="618.2" y2="467.7" stroke="#444" stroke-width="0.55"/>
<line x1="619.8" y1="456.8" x2="619.8" y2="467.7" stroke="#333" stroke-width="0.55"/>
<line x1="625.3" y1="456.8" x2="625.3" y2="467.7" stroke="#333" stroke-width="0.55"/>
<line x1="626.4" y1="456.8" x2="626.4" y2="467.7" stroke="#777" stroke-width="0.55"/>
<line x1="628.6" y1="456.8" x2="628.6" y2="467.7" stroke="#b3b3b3" stroke-width="0.5"/>
<line x1="629.2" y1="456.8" x2="629.2" y2="467.7" stroke="#c4c4c4" stroke-width="0.5"/>
<line x1="630.22" y1="456.8" x2="630.22" y2="467.7" stroke="#c7c7c7" stroke-width="0.5"/>
<line x1="631.51" y1="456.8" x2="631.51" y2="467.7" stroke="#d1d1d1" stroke-width="0.5"/>
<line x1="632.33" y1="456.8" x2="632.33" y2="467.7" stroke="#cbcbcb" stroke-width="0.5"/>
<line x1="633.7" y1="456.8" x2="633.7" y2="467.7" stroke="#111" stroke-width="0.55"/>
<line x1="637" y1="456.8" x2="637" y2="467.7" stroke="#222" stroke-width="0.55"/>
<line x1="637.8" y1="456.8" x2="637.8" y2="467.7" stroke="#666" stroke-width="0.55"/>
<line x1="641.03" y1="456.8" x2="641.03" y2="467.7" stroke="#5b5b5b" stroke-width="0.5"/>
<line x1="641.77" y1="456.8" x2="641.77" y2="467.7" stroke="#505050" stroke-width="0.5"/>
<line x1="642.29" y1="456.8" x2="642.29" y2="467.7" stroke="#4e4e4e" stroke-width="0.5"/>
<line x1="642.91" y1="456.8" x2="642.91" y2="467.7" stroke="#757575" stroke-width="0.5"/>
<line x1="643.37" y1="456.8" x2="643.37" y2="467.7" stroke="#545454" stroke-width="0.5"/>
<line x1="644.34" y1="456.8" x2="644.34" y2="467.7" stroke="#5e5e5e" stroke-width="0.5"/>
<line x1="645.03" y1="456.8" x2="645.03" y2="467.7" stroke="#646464" stroke-width="0.5"/>
<line x1="645.64" y1="456.8" x2="645.64" y2="467.7" stroke="#737373" stroke-width="0.5"/>
<line x1="647.62" y1="456.8" x2="647.62" y2="467.7" stroke="#919191" stroke-width="0.5"/>
<line x1="648.55" y1="456.8" x2="648.55" y2="467.7" stroke="#acacac" stroke-width="0.5"/>
<line x1="649.57" y1="456.8" x2="649.57" y2="467.7" stroke="#acacac" stroke-width="0.5"/>
<line x1="650.11" y1="456.8" x2="650.11" y2="467.7" stroke="#bebebe" stroke-width="0.5"/>
<line x1="651.6" y1="456.8" x2="651.6" y2="467.7" stroke="#222" stroke-width="0.55"/>
<line x1="652.9" y1="456.8" x2="652.9" y2="467.7" stroke="#aaa" stroke-width="0.55"/>
<line x1="655.1" y1="456.8" x2="655.1" y2="467.7" stroke="#222" stroke-width="0.55"/>
<line x1="656.2" y1="456.8" x2="656.2" y2="467.7" stroke="#555" stroke-width="0.55"/>
<line x1="658.53" y1="456.8" x2="658.53" y2="467.7" stroke="#696969" stroke-width="0.5"/>
<line x1="659.16" y1="456.8" x2="659.16" y2="467.7" stroke="#404040" stroke-width="0.5"/>
<line x1="659.88" y1="456.8" x2="659.88" y2="467.7" stroke="#6a6a6a" stroke-width="0.5"/>
<line x1="660.46" y1="456.8" x2="660.46" y2="467.7" stroke="#5f5f5f" stroke-width="0.5"/>
<line x1="661.29" y1="456.8" x2="661.29" y2="467.7" stroke="#5d5d5d" stroke-width="0.5"/>
<line x1="661.94" y1="456.8" x2="661.94" y2="467.7" stroke="#616161" stroke-width="0.5"/>
<line x1="663.72" y1="456.8" x2="663.72" y2="467.7" stroke="#3f3f3f" stroke-width="0.5"/>
<line x1="664.14" y1="456.8" x2="664.14" y2="467.7" stroke="#5e5e5e" stroke-width="0.5"/>
<line x1="664.77" y1="456.8" x2="664.77" y2="467.7" stroke="#505050" stroke-width="0.5"/>
<line x1="665.19" y1="456.8" x2="665.19" y2="467.7" stroke="#343434" stroke-width="0.5"/>
<line x1="665.64" y1="456.8" x2="665.64" y2="467.7" stroke="#373737" stroke-width="0.5"/>
<line x1="666.25" y1="456.8" x2="666.25" y2="467.7" stroke="#545454" stroke-width="0.5"/>
<line x1="666.88" y1="456.8" x2="666.88" y2="467.7" stroke="#414141" stroke-width="0.5"/>
<line x1="667.3" y1="456.8" x2="667.3" y2="467.7" stroke="#666666" stroke-width="0.5"/>
<line x1="667.85" y1="456.8" x2="667.85" y2="467.7" stroke="#484848" stroke-width="0.5"/>
<line x1="668.4" y1="456.8" x2="668.4" y2="467.7" stroke="#2a2a2a" stroke-width="0.5"/>
<line x1="669.18" y1="456.8" x2="669.18" y2="467.7" stroke="#6c6c6c" stroke-width="0.5"/>
<line x1="669.55" y1="456.8" x2="669.55" y2="467.7" stroke="#424242" stroke-width="0.5"/>
<line x1="670.32" y1="456.8" x2="670.32" y2="467.7" stroke="#565656" stroke-width="0.5"/>
<line x1="670.51" y1="456.8" x2="670.51" y2="467.7" stroke="#292929" stroke-width="0.5"/>
<line x1="672" y1="456.8" x2="672" y2="467.7" stroke="#222" stroke-width="0.55"/>
<line x1="533.8" y1="462.2" x2="679.3" y2="462.2" stroke="#333" stroke-width="0.75"/>
<line x1="538.2" y1="404.6" x2="679.8" y2="404.6" stroke="#f03232" stroke-width="1.1" stroke-dasharray="2.7 2.3"/>
<line x1="538.2" y1="495.5" x2="679.8" y2="495.5" stroke="#f03232" stroke-width="1.1" stroke-dasharray="2.7 2.3"/>
<path d="M543.3 462.2 L543.8 456 L544.9 450.6 L547 437.4 L549.2 426.5 L552.5 418.8 L556.9 413.3 L562.4 409 L566.7 404.6 L572.2 407.9 L578.8 413.3 L585.4 419.9 L591.9 427.6 L600.7 438.5 L609.4 449.5 L618.2 461.5 L627 472.4 L635.7 481.2 L644.5 490 L651 494.3 L654 495.2 L657.6 493.9 L662 491.1 L666.4 483.4 L670.8 474.6 L673 463.7 L673.1 462.2" stroke="#3ded3d" stroke-width="0.8" fill="none" stroke-linejoin="round"/>
<text x="652.5" y="425.7" font-size="6.9" text-anchor="middle" fill="#222">NES = 1.35</text>
<text x="652.5" y="434.9" font-size="6.9" text-anchor="middle" fill="#222"><tspan font-style="italic">q</tspan> = 7.86 × 10<tspan font-size="4.8" dy="-2.8">−3</tspan></text>
<text x="328.4" y="539.6" font-size="12.5" font-weight="bold" fill="#000" stroke="#000" stroke-width="0.35">j</text>
<text x="426.7" y="548.1" font-size="8.9" text-anchor="middle" fill="#222">Exhaustion signature ref. 36</text>
<rect x="353.7" y="553.5" width="145.5" height="101.5" fill="none" stroke="#8a8a8a" stroke-width="0.9"/>
<line x1="350.3" y1="556.6" x2="353.7" y2="556.6" stroke="#666" stroke-width="0.7"/>
<text x="348.3" y="558.7" font-size="6" text-anchor="end" fill="#333">0.8</text>
<line x1="350.3" y1="578.7" x2="353.7" y2="578.7" stroke="#666" stroke-width="0.7"/>
<text x="348.3" y="580.8" font-size="6" text-anchor="end" fill="#333">0.6</text>
<line x1="350.3" y1="600.8" x2="353.7" y2="600.8" stroke="#666" stroke-width="0.7"/>
<text x="348.3" y="602.9" font-size="6" text-anchor="end" fill="#333">0.4</text>
<line x1="350.3" y1="622.9" x2="353.7" y2="622.9" stroke="#666" stroke-width="0.7"/>
<text x="348.3" y="625" font-size="6" text-anchor="end" fill="#333">0.2</text>
<line x1="360.3" y1="655" x2="360.3" y2="658.6" stroke="#666" stroke-width="0.7"/>
<text x="360.3" y="666.3" font-size="6" text-anchor="middle" fill="#333">0</text>
<line x1="411.1" y1="655" x2="411.1" y2="658.6" stroke="#666" stroke-width="0.7"/>
<text x="411.1" y="666.3" font-size="6" text-anchor="middle" fill="#333">10,000</text>
<line x1="461.9" y1="655" x2="461.9" y2="658.6" stroke="#666" stroke-width="0.7"/>
<text x="461.9" y="666.3" font-size="6" text-anchor="middle" fill="#333">20,000</text>
<text x="430.5" y="678.5" font-size="7.2" text-anchor="middle" fill="#222">Gene rank</text>
<text x="333.4" y="602.5" font-size="7.2" text-anchor="middle" fill="#1a1a1a" transform="rotate(-90 333.4 602.5)">Enrichment score (KO/WT)</text>
<line x1="360.8" y1="639.7" x2="360.8" y2="651.1" stroke="#333" stroke-width="0.55"/>
<line x1="361.9" y1="639.7" x2="361.9" y2="651.1" stroke="#333" stroke-width="0.55"/>
<line x1="363" y1="639.7" x2="363" y2="651.1" stroke="#444" stroke-width="0.55"/>
<line x1="364" y1="639.7" x2="364" y2="651.1" stroke="#333" stroke-width="0.55"/>
<line x1="365.4" y1="639.7" x2="365.4" y2="651.1" stroke="#444" stroke-width="0.55"/>
<line x1="367.3" y1="639.7" x2="367.3" y2="651.1" stroke="#333" stroke-width="0.55"/>
<line x1="368.4" y1="639.7" x2="368.4" y2="651.1" stroke="#555" stroke-width="0.55"/>
<line x1="360.77" y1="639.7" x2="360.77" y2="651.1" stroke="#636363" stroke-width="0.5"/>
<line x1="361.87" y1="639.7" x2="361.87" y2="651.1" stroke="#5d5d5d" stroke-width="0.5"/>
<line x1="362.64" y1="639.7" x2="362.64" y2="651.1" stroke="#7c7c7c" stroke-width="0.5"/>
<line x1="363.69" y1="639.7" x2="363.69" y2="651.1" stroke="#7f7f7f" stroke-width="0.5"/>
<line x1="364.7" y1="639.7" x2="364.7" y2="651.1" stroke="#7a7a7a" stroke-width="0.5"/>
<line x1="365.87" y1="639.7" x2="365.87" y2="651.1" stroke="#5f5f5f" stroke-width="0.5"/>
<line x1="367.08" y1="639.7" x2="367.08" y2="651.1" stroke="#5e5e5e" stroke-width="0.5"/>
<line x1="367.96" y1="639.7" x2="367.96" y2="651.1" stroke="#7d7d7d" stroke-width="0.5"/>
<line x1="371.4" y1="639.7" x2="371.4" y2="651.1" stroke="#555" stroke-width="0.55"/>
<line x1="373.9" y1="639.7" x2="373.9" y2="651.1" stroke="#aaa" stroke-width="0.55"/>
<line x1="377.84" y1="639.7" x2="377.84" y2="651.1" stroke="#a2a2a2" stroke-width="0.5"/>
<line x1="378.62" y1="639.7" x2="378.62" y2="651.1" stroke="#aaaaaa" stroke-width="0.5"/>
<line x1="379.13" y1="639.7" x2="379.13" y2="651.1" stroke="#969696" stroke-width="0.5"/>
<line x1="382.4" y1="639.7" x2="382.4" y2="651.1" stroke="#777" stroke-width="0.55"/>
<line x1="385.3" y1="639.7" x2="385.3" y2="651.1" stroke="#a1a1a1" stroke-width="0.5"/>
<line x1="386.14" y1="639.7" x2="386.14" y2="651.1" stroke="#acacac" stroke-width="0.5"/>
<line x1="392.42" y1="639.7" x2="392.42" y2="651.1" stroke="#a7a7a7" stroke-width="0.5"/>
<line x1="393.02" y1="639.7" x2="393.02" y2="651.1" stroke="#bbbbbb" stroke-width="0.5"/>
<line x1="395.1" y1="639.7" x2="395.1" y2="651.1" stroke="#999" stroke-width="0.55"/>
<line x1="397.6" y1="639.7" x2="397.6" y2="651.1" stroke="#888" stroke-width="0.55"/>
<line x1="405.6" y1="639.7" x2="405.6" y2="651.1" stroke="#666" stroke-width="0.55"/>
<line x1="410.1" y1="639.7" x2="410.1" y2="651.1" stroke="#bbb" stroke-width="0.55"/>
<line x1="456.5" y1="639.7" x2="456.5" y2="651.1" stroke="#777" stroke-width="0.55"/>
<line x1="467.87" y1="639.7" x2="467.87" y2="651.1" stroke="#cbcbcb" stroke-width="0.5"/>
<line x1="468.58" y1="639.7" x2="468.58" y2="651.1" stroke="#c1c1c1" stroke-width="0.5"/>
<line x1="469.52" y1="639.7" x2="469.52" y2="651.1" stroke="#cfcfcf" stroke-width="0.5"/>
<line x1="477.5" y1="639.7" x2="477.5" y2="651.1" stroke="#888" stroke-width="0.55"/>
<line x1="481.8" y1="639.7" x2="481.8" y2="651.1" stroke="#aaa" stroke-width="0.55"/>
<line x1="488.3" y1="639.7" x2="488.3" y2="651.1" stroke="#777" stroke-width="0.55"/>
<line x1="353.7" y1="645.3" x2="499.2" y2="645.3" stroke="#8a8a8a" stroke-width="0.8"/>
<line x1="353.7" y1="645.3" x2="499.2" y2="645.3" stroke="#c0392b" stroke-width="0.85" stroke-dasharray="2.7 2.3"/>
<line x1="354.7" y1="558.1" x2="498.2" y2="558.1" stroke="#ff6868" stroke-width="1.35" stroke-dasharray="2.6 2.65"/>
<path d="M360.3 645.3 L360.8 630 L361.5 594.2 L363.7 576.7 L365.9 565 L368.8 558.5 L371 559.5 L372.5 557.8 L374.6 558.5 L377 557.5 L379 560.4 L382 560.8 L386.3 563.6 L398 570.9 L412.6 582.6 L425 592.8 L467.8 628.7 L480 637 L493.3 645.3" stroke="#3ded3d" stroke-width="0.8" fill="none" stroke-linejoin="round"/>
<text x="471.5" y="588.3" font-size="6.9" text-anchor="middle" fill="#222">NES = 2.2</text>
<text x="471.5" y="595.3" font-size="6.9" text-anchor="middle" fill="#222">q = 1.48 × 10<tspan font-size="4.8" dy="-2.8">−6</tspan></text>
<text x="509.3" y="541" font-size="12.5" font-weight="bold" fill="#000" stroke="#000" stroke-width="0.35">k</text>
<text x="612.6" y="547.9" font-size="8.9" text-anchor="middle" fill="#222">Exhaustion signature ref. 36</text>
<line x1="540.4" y1="650.5" x2="684" y2="650.5" stroke="#f0f0f0" stroke-width="0.5"/>
<rect x="540.4" y="553.6" width="143.6" height="100.7" fill="none" stroke="#b5b5b5" stroke-width="0.9"/>
<line x1="537" y1="574.8" x2="540.4" y2="574.8" stroke="#666" stroke-width="0.7"/>
<text x="535" y="576.9" font-size="6" text-anchor="end" fill="#333">0.2</text>
<line x1="537" y1="605.2" x2="540.4" y2="605.2" stroke="#666" stroke-width="0.7"/>
<text x="535" y="607.3" font-size="6" text-anchor="end" fill="#333">0</text>
<line x1="537" y1="635.6" x2="540.4" y2="635.6" stroke="#666" stroke-width="0.7"/>
<text x="535" y="637.7" font-size="6" text-anchor="end" fill="#333">−0.2</text>
<line x1="546.4" y1="654.3" x2="546.4" y2="657.9" stroke="#666" stroke-width="0.7"/>
<text x="546.4" y="666.6" font-size="6" text-anchor="middle" fill="#333">0</text>
<line x1="596.5" y1="654.3" x2="596.5" y2="657.9" stroke="#666" stroke-width="0.7"/>
<text x="596.5" y="666.6" font-size="6" text-anchor="middle" fill="#333">10,000</text>
<line x1="646.6" y1="654.3" x2="646.6" y2="657.9" stroke="#666" stroke-width="0.7"/>
<text x="646.6" y="666.6" font-size="6" text-anchor="middle" fill="#333">20,000</text>
<text x="618.9" y="678.5" font-size="7.2" text-anchor="middle" fill="#222">Gene rank</text>
<text x="518" y="607.5" font-size="7.2" text-anchor="middle" fill="#1a1a1a" transform="rotate(-90 518 607.5)">Enrichment score (KO + AOX/WT)</text>
<line x1="546.8" y1="599.4" x2="546.8" y2="610.8" stroke="#999" stroke-width="0.55"/>
<line x1="552.2" y1="599.4" x2="552.2" y2="610.8" stroke="#888" stroke-width="0.55"/>
<line x1="554.6" y1="599.4" x2="554.6" y2="610.8" stroke="#999" stroke-width="0.55"/>
<line x1="559.11" y1="599.4" x2="559.11" y2="610.8" stroke="#898989" stroke-width="0.5"/>
<line x1="559.8" y1="599.4" x2="559.8" y2="610.8" stroke="#717171" stroke-width="0.5"/>
<line x1="561.02" y1="599.4" x2="561.02" y2="610.8" stroke="#5a5a5a" stroke-width="0.5"/>
<line x1="561.5" y1="599.4" x2="561.5" y2="610.8" stroke="#959595" stroke-width="0.5"/>
<line x1="561.5" y1="599.4" x2="561.5" y2="610.8" stroke="#333" stroke-width="0.55"/>
<line x1="567" y1="599.4" x2="567" y2="610.8" stroke="#bbb" stroke-width="0.55"/>
<line x1="569.8" y1="599.4" x2="569.8" y2="610.8" stroke="#555" stroke-width="0.55"/>
<line x1="574.13" y1="599.4" x2="574.13" y2="610.8" stroke="#b6b6b6" stroke-width="0.5"/>
<line x1="574.53" y1="599.4" x2="574.53" y2="610.8" stroke="#d1d1d1" stroke-width="0.5"/>
<line x1="575.43" y1="599.4" x2="575.43" y2="610.8" stroke="#b5b5b5" stroke-width="0.5"/>
<line x1="580.9" y1="599.4" x2="580.9" y2="610.8" stroke="#888" stroke-width="0.55"/>
<line x1="587.1" y1="599.4" x2="587.1" y2="610.8" stroke="#444" stroke-width="0.55"/>
<line x1="591.1" y1="599.4" x2="591.1" y2="610.8" stroke="#ccc" stroke-width="0.55"/>
<line x1="600.01" y1="599.4" x2="600.01" y2="610.8" stroke="#969696" stroke-width="0.5"/>
<line x1="601.21" y1="599.4" x2="601.21" y2="610.8" stroke="#a8a8a8" stroke-width="0.5"/>
<line x1="602.68" y1="599.4" x2="602.68" y2="610.8" stroke="#a7a7a7" stroke-width="0.5"/>
<line x1="603.13" y1="599.4" x2="603.13" y2="610.8" stroke="#9b9b9b" stroke-width="0.5"/>
<line x1="620.3" y1="599.4" x2="620.3" y2="610.8" stroke="#999" stroke-width="0.55"/>
<line x1="647.3" y1="599.4" x2="647.3" y2="610.8" stroke="#999" stroke-width="0.55"/>
<line x1="650.3" y1="599.4" x2="650.3" y2="610.8" stroke="#888" stroke-width="0.55"/>
<line x1="656.6" y1="599.4" x2="656.6" y2="610.8" stroke="#777" stroke-width="0.55"/>
<line x1="658.5" y1="599.4" x2="658.5" y2="610.8" stroke="#444" stroke-width="0.55"/>
<line x1="662.5" y1="599.4" x2="662.5" y2="610.8" stroke="#aaa" stroke-width="0.55"/>
<line x1="664.1" y1="599.4" x2="664.1" y2="610.8" stroke="#999" stroke-width="0.55"/>
<line x1="665.6" y1="599.4" x2="665.6" y2="610.8" stroke="#aaa" stroke-width="0.55"/>
<line x1="666.8" y1="599.4" x2="666.8" y2="610.8" stroke="#999" stroke-width="0.55"/>
<line x1="668.4" y1="599.4" x2="668.4" y2="610.8" stroke="#888" stroke-width="0.55"/>
<line x1="670.7" y1="599.4" x2="670.7" y2="610.8" stroke="#999" stroke-width="0.55"/>
<line x1="673.2" y1="599.4" x2="673.2" y2="610.8" stroke="#777" stroke-width="0.55"/>
<line x1="674.2" y1="599.4" x2="674.2" y2="610.8" stroke="#666" stroke-width="0.55"/>
<line x1="675.2" y1="599.4" x2="675.2" y2="610.8" stroke="#777" stroke-width="0.55"/>
<line x1="676.3" y1="599.4" x2="676.3" y2="610.8" stroke="#555" stroke-width="0.55"/>
<line x1="537" y1="605.3" x2="682.5" y2="605.3" stroke="#777" stroke-width="0.75"/>
<line x1="541.4" y1="558.3" x2="683" y2="558.3" stroke="#f03232" stroke-width="1.1" stroke-dasharray="2.7 2.3"/>
<path d="M546.4 605.1 L546.4 590 L547.4 581.4 L549.5 584 L552.3 586.9 L554.7 575.3 L556.2 578.5 L558.7 579.3 L559.9 569.4 L561 568.2 L562.8 559.2 L565 561 L567.2 563.3 L570.1 560.7 L572.5 562.5 L575.2 563.9 L581 568.7 L587.6 573.8 L600 587.2 L630 622.3 L646.8 641.6 L650.3 643.9 L656.6 649.8 L658.5 644.4 L662.3 648.2 L664.1 645.9 L665.6 646.9 L666.8 645.4 L668.1 646.7 L669.1 643.7 L670.5 645.7 L671.2 638.3 L673.7 640.3 L673.9 636.3 L674.7 631.7 L675.5 626.6 L676.6 620.5 L676.6 605.2" stroke="#3ded3d" stroke-width="0.8" fill="none" stroke-linejoin="round"/>
<text x="657" y="573.1" font-size="6.9" text-anchor="middle" fill="#222">NES = 0.971</text>
<text x="657" y="581.4" font-size="6.9" text-anchor="middle" fill="#222"><tspan font-style="italic">q</tspan> = 5.57 × 10<tspan font-size="4.8" dy="-2.8">−1</tspan></text>
</svg>
</body></html>
